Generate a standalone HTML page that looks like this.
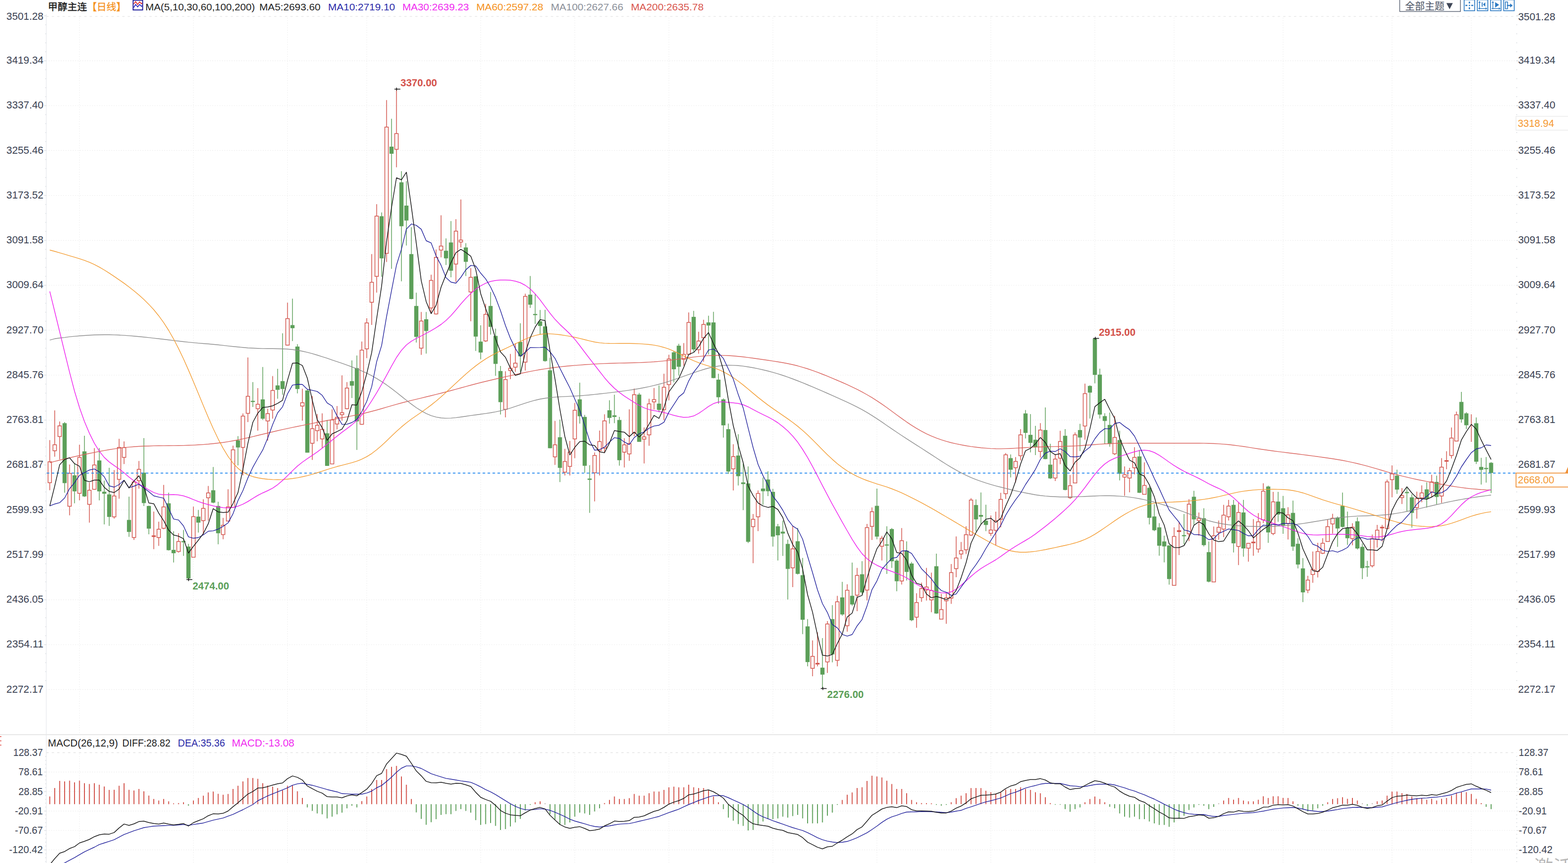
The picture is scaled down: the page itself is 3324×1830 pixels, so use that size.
<!DOCTYPE html><html><head><meta charset="utf-8"><title>chart</title><style>html,body{margin:0;padding:0;background:#fff;overflow:hidden}</style></head><body><svg width="3324" height="1830" viewBox="0 0 3324 1830" style="display:block;font-family:'Liberation Sans',sans-serif">
<rect width="3324" height="1830" fill="#fff"/>
<g><line x1="98.1" y1="34.8" x2="3215.3" y2="34.8" stroke="#e4e4e4" stroke-width="1.3" stroke-dasharray="5 6.5"/><line x1="98.1" y1="128.8" x2="3215.3" y2="128.8" stroke="#ebebeb" stroke-width="1.2" stroke-dasharray="2 3.1"/><line x1="98.1" y1="224.0" x2="3215.3" y2="224.0" stroke="#ebebeb" stroke-width="1.2" stroke-dasharray="2 3.1"/><line x1="98.1" y1="319.2" x2="3215.3" y2="319.2" stroke="#ebebeb" stroke-width="1.2" stroke-dasharray="2 3.1"/><line x1="98.1" y1="414.5" x2="3215.3" y2="414.5" stroke="#ebebeb" stroke-width="1.2" stroke-dasharray="2 3.1"/><line x1="98.1" y1="509.8" x2="3215.3" y2="509.8" stroke="#ebebeb" stroke-width="1.2" stroke-dasharray="2 3.1"/><line x1="98.1" y1="605.0" x2="3215.3" y2="605.0" stroke="#ebebeb" stroke-width="1.2" stroke-dasharray="2 3.1"/><line x1="98.1" y1="700.2" x2="3215.3" y2="700.2" stroke="#ebebeb" stroke-width="1.2" stroke-dasharray="2 3.1"/><line x1="98.1" y1="795.5" x2="3215.3" y2="795.5" stroke="#ebebeb" stroke-width="1.2" stroke-dasharray="2 3.1"/><line x1="98.1" y1="890.8" x2="3215.3" y2="890.8" stroke="#ebebeb" stroke-width="1.2" stroke-dasharray="2 3.1"/><line x1="98.1" y1="986.0" x2="3215.3" y2="986.0" stroke="#ebebeb" stroke-width="1.2" stroke-dasharray="2 3.1"/><line x1="98.1" y1="1081.2" x2="3215.3" y2="1081.2" stroke="#ebebeb" stroke-width="1.2" stroke-dasharray="2 3.1"/><line x1="98.1" y1="1176.5" x2="3215.3" y2="1176.5" stroke="#ebebeb" stroke-width="1.2" stroke-dasharray="2 3.1"/><line x1="98.1" y1="1271.8" x2="3215.3" y2="1271.8" stroke="#ebebeb" stroke-width="1.2" stroke-dasharray="2 3.1"/><line x1="98.1" y1="1367.0" x2="3215.3" y2="1367.0" stroke="#ebebeb" stroke-width="1.2" stroke-dasharray="2 3.1"/><line x1="98.1" y1="1462.2" x2="3215.3" y2="1462.2" stroke="#ebebeb" stroke-width="1.2" stroke-dasharray="2 3.1"/><line x1="168.5" y1="37.5" x2="168.5" y2="1557" stroke="#ededed" stroke-width="1.2" stroke-dasharray="2 3.1"/><line x1="168.5" y1="1598" x2="168.5" y2="1830" stroke="#ededed" stroke-width="1.2" stroke-dasharray="2 3.1"/><line x1="410.0" y1="37.5" x2="410.0" y2="1557" stroke="#ededed" stroke-width="1.2" stroke-dasharray="2 3.1"/><line x1="410.0" y1="1598" x2="410.0" y2="1830" stroke="#ededed" stroke-width="1.2" stroke-dasharray="2 3.1"/><line x1="609.5" y1="37.5" x2="609.5" y2="1557" stroke="#ededed" stroke-width="1.2" stroke-dasharray="2 3.1"/><line x1="609.5" y1="1598" x2="609.5" y2="1830" stroke="#ededed" stroke-width="1.2" stroke-dasharray="2 3.1"/><line x1="777.5" y1="37.5" x2="777.5" y2="1557" stroke="#ededed" stroke-width="1.2" stroke-dasharray="2 3.1"/><line x1="777.5" y1="1598" x2="777.5" y2="1830" stroke="#ededed" stroke-width="1.2" stroke-dasharray="2 3.1"/><line x1="1019.0" y1="37.5" x2="1019.0" y2="1557" stroke="#ededed" stroke-width="1.2" stroke-dasharray="2 3.1"/><line x1="1019.0" y1="1598" x2="1019.0" y2="1830" stroke="#ededed" stroke-width="1.2" stroke-dasharray="2 3.1"/><line x1="1218.5" y1="37.5" x2="1218.5" y2="1557" stroke="#ededed" stroke-width="1.2" stroke-dasharray="2 3.1"/><line x1="1218.5" y1="1598" x2="1218.5" y2="1830" stroke="#ededed" stroke-width="1.2" stroke-dasharray="2 3.1"/><line x1="1418.0" y1="37.5" x2="1418.0" y2="1557" stroke="#ededed" stroke-width="1.2" stroke-dasharray="2 3.1"/><line x1="1418.0" y1="1598" x2="1418.0" y2="1830" stroke="#ededed" stroke-width="1.2" stroke-dasharray="2 3.1"/><line x1="1638.5" y1="37.5" x2="1638.5" y2="1557" stroke="#ededed" stroke-width="1.2" stroke-dasharray="2 3.1"/><line x1="1638.5" y1="1598" x2="1638.5" y2="1830" stroke="#ededed" stroke-width="1.2" stroke-dasharray="2 3.1"/><line x1="1859.0" y1="37.5" x2="1859.0" y2="1557" stroke="#ededed" stroke-width="1.2" stroke-dasharray="2 3.1"/><line x1="1859.0" y1="1598" x2="1859.0" y2="1830" stroke="#ededed" stroke-width="1.2" stroke-dasharray="2 3.1"/><line x1="2100.5" y1="37.5" x2="2100.5" y2="1557" stroke="#ededed" stroke-width="1.2" stroke-dasharray="2 3.1"/><line x1="2100.5" y1="1598" x2="2100.5" y2="1830" stroke="#ededed" stroke-width="1.2" stroke-dasharray="2 3.1"/><line x1="2321.0" y1="37.5" x2="2321.0" y2="1557" stroke="#ededed" stroke-width="1.2" stroke-dasharray="2 3.1"/><line x1="2321.0" y1="1598" x2="2321.0" y2="1830" stroke="#ededed" stroke-width="1.2" stroke-dasharray="2 3.1"/><line x1="2489.0" y1="37.5" x2="2489.0" y2="1557" stroke="#ededed" stroke-width="1.2" stroke-dasharray="2 3.1"/><line x1="2489.0" y1="1598" x2="2489.0" y2="1830" stroke="#ededed" stroke-width="1.2" stroke-dasharray="2 3.1"/><line x1="2720.0" y1="37.5" x2="2720.0" y2="1557" stroke="#ededed" stroke-width="1.2" stroke-dasharray="2 3.1"/><line x1="2720.0" y1="1598" x2="2720.0" y2="1830" stroke="#ededed" stroke-width="1.2" stroke-dasharray="2 3.1"/><line x1="2951.0" y1="37.5" x2="2951.0" y2="1557" stroke="#ededed" stroke-width="1.2" stroke-dasharray="2 3.1"/><line x1="2951.0" y1="1598" x2="2951.0" y2="1830" stroke="#ededed" stroke-width="1.2" stroke-dasharray="2 3.1"/><line x1="3119.0" y1="37.5" x2="3119.0" y2="1557" stroke="#ededed" stroke-width="1.2" stroke-dasharray="2 3.1"/><line x1="3119.0" y1="1598" x2="3119.0" y2="1830" stroke="#ededed" stroke-width="1.2" stroke-dasharray="2 3.1"/><line x1="98.1" y1="30" x2="98.1" y2="1830" stroke="#ebeef1" stroke-width="1.6"/><line x1="93.6" y1="33.5" x2="98.1" y2="33.5" stroke="#dde1e5" stroke-width="1.5"/><line x1="3214.3" y1="33.5" x2="3218.8" y2="33.5" stroke="#d6dade" stroke-width="1.6"/><line x1="95.7" y1="52.5" x2="98.1" y2="52.5" stroke="#dde1e5" stroke-width="1.5"/><line x1="3214.3" y1="52.5" x2="3216.3" y2="52.5" stroke="#d6dade" stroke-width="1.6"/><line x1="95.7" y1="71.6" x2="98.1" y2="71.6" stroke="#dde1e5" stroke-width="1.5"/><line x1="3214.3" y1="71.6" x2="3216.3" y2="71.6" stroke="#d6dade" stroke-width="1.6"/><line x1="95.7" y1="90.7" x2="98.1" y2="90.7" stroke="#dde1e5" stroke-width="1.5"/><line x1="3214.3" y1="90.7" x2="3216.3" y2="90.7" stroke="#d6dade" stroke-width="1.6"/><line x1="95.7" y1="109.7" x2="98.1" y2="109.7" stroke="#dde1e5" stroke-width="1.5"/><line x1="3214.3" y1="109.7" x2="3216.3" y2="109.7" stroke="#d6dade" stroke-width="1.6"/><line x1="93.6" y1="128.8" x2="98.1" y2="128.8" stroke="#dde1e5" stroke-width="1.5"/><line x1="3214.3" y1="128.8" x2="3218.8" y2="128.8" stroke="#d6dade" stroke-width="1.6"/><line x1="95.7" y1="147.8" x2="98.1" y2="147.8" stroke="#dde1e5" stroke-width="1.5"/><line x1="3214.3" y1="147.8" x2="3216.3" y2="147.8" stroke="#d6dade" stroke-width="1.6"/><line x1="95.7" y1="166.8" x2="98.1" y2="166.8" stroke="#dde1e5" stroke-width="1.5"/><line x1="3214.3" y1="166.8" x2="3216.3" y2="166.8" stroke="#d6dade" stroke-width="1.6"/><line x1="95.7" y1="185.9" x2="98.1" y2="185.9" stroke="#dde1e5" stroke-width="1.5"/><line x1="3214.3" y1="185.9" x2="3216.3" y2="185.9" stroke="#d6dade" stroke-width="1.6"/><line x1="95.7" y1="204.9" x2="98.1" y2="204.9" stroke="#dde1e5" stroke-width="1.5"/><line x1="3214.3" y1="204.9" x2="3216.3" y2="204.9" stroke="#d6dade" stroke-width="1.6"/><line x1="93.6" y1="224.0" x2="98.1" y2="224.0" stroke="#dde1e5" stroke-width="1.5"/><line x1="3214.3" y1="224.0" x2="3218.8" y2="224.0" stroke="#d6dade" stroke-width="1.6"/><line x1="95.7" y1="243.1" x2="98.1" y2="243.1" stroke="#dde1e5" stroke-width="1.5"/><line x1="3214.3" y1="243.1" x2="3216.3" y2="243.1" stroke="#d6dade" stroke-width="1.6"/><line x1="95.7" y1="262.1" x2="98.1" y2="262.1" stroke="#dde1e5" stroke-width="1.5"/><line x1="3214.3" y1="262.1" x2="3216.3" y2="262.1" stroke="#d6dade" stroke-width="1.6"/><line x1="95.7" y1="281.1" x2="98.1" y2="281.1" stroke="#dde1e5" stroke-width="1.5"/><line x1="3214.3" y1="281.1" x2="3216.3" y2="281.1" stroke="#d6dade" stroke-width="1.6"/><line x1="95.7" y1="300.2" x2="98.1" y2="300.2" stroke="#dde1e5" stroke-width="1.5"/><line x1="3214.3" y1="300.2" x2="3216.3" y2="300.2" stroke="#d6dade" stroke-width="1.6"/><line x1="93.6" y1="319.2" x2="98.1" y2="319.2" stroke="#dde1e5" stroke-width="1.5"/><line x1="3214.3" y1="319.2" x2="3218.8" y2="319.2" stroke="#d6dade" stroke-width="1.6"/><line x1="95.7" y1="338.3" x2="98.1" y2="338.3" stroke="#dde1e5" stroke-width="1.5"/><line x1="3214.3" y1="338.3" x2="3216.3" y2="338.3" stroke="#d6dade" stroke-width="1.6"/><line x1="95.7" y1="357.4" x2="98.1" y2="357.4" stroke="#dde1e5" stroke-width="1.5"/><line x1="3214.3" y1="357.4" x2="3216.3" y2="357.4" stroke="#d6dade" stroke-width="1.6"/><line x1="95.7" y1="376.4" x2="98.1" y2="376.4" stroke="#dde1e5" stroke-width="1.5"/><line x1="3214.3" y1="376.4" x2="3216.3" y2="376.4" stroke="#d6dade" stroke-width="1.6"/><line x1="95.7" y1="395.4" x2="98.1" y2="395.4" stroke="#dde1e5" stroke-width="1.5"/><line x1="3214.3" y1="395.4" x2="3216.3" y2="395.4" stroke="#d6dade" stroke-width="1.6"/><line x1="93.6" y1="414.5" x2="98.1" y2="414.5" stroke="#dde1e5" stroke-width="1.5"/><line x1="3214.3" y1="414.5" x2="3218.8" y2="414.5" stroke="#d6dade" stroke-width="1.6"/><line x1="95.7" y1="433.6" x2="98.1" y2="433.6" stroke="#dde1e5" stroke-width="1.5"/><line x1="3214.3" y1="433.6" x2="3216.3" y2="433.6" stroke="#d6dade" stroke-width="1.6"/><line x1="95.7" y1="452.6" x2="98.1" y2="452.6" stroke="#dde1e5" stroke-width="1.5"/><line x1="3214.3" y1="452.6" x2="3216.3" y2="452.6" stroke="#d6dade" stroke-width="1.6"/><line x1="95.7" y1="471.6" x2="98.1" y2="471.6" stroke="#dde1e5" stroke-width="1.5"/><line x1="3214.3" y1="471.6" x2="3216.3" y2="471.6" stroke="#d6dade" stroke-width="1.6"/><line x1="95.7" y1="490.7" x2="98.1" y2="490.7" stroke="#dde1e5" stroke-width="1.5"/><line x1="3214.3" y1="490.7" x2="3216.3" y2="490.7" stroke="#d6dade" stroke-width="1.6"/><line x1="93.6" y1="509.8" x2="98.1" y2="509.8" stroke="#dde1e5" stroke-width="1.5"/><line x1="3214.3" y1="509.8" x2="3218.8" y2="509.8" stroke="#d6dade" stroke-width="1.6"/><line x1="95.7" y1="528.8" x2="98.1" y2="528.8" stroke="#dde1e5" stroke-width="1.5"/><line x1="3214.3" y1="528.8" x2="3216.3" y2="528.8" stroke="#d6dade" stroke-width="1.6"/><line x1="95.7" y1="547.9" x2="98.1" y2="547.9" stroke="#dde1e5" stroke-width="1.5"/><line x1="3214.3" y1="547.9" x2="3216.3" y2="547.9" stroke="#d6dade" stroke-width="1.6"/><line x1="95.7" y1="566.9" x2="98.1" y2="566.9" stroke="#dde1e5" stroke-width="1.5"/><line x1="3214.3" y1="566.9" x2="3216.3" y2="566.9" stroke="#d6dade" stroke-width="1.6"/><line x1="95.7" y1="586.0" x2="98.1" y2="586.0" stroke="#dde1e5" stroke-width="1.5"/><line x1="3214.3" y1="586.0" x2="3216.3" y2="586.0" stroke="#d6dade" stroke-width="1.6"/><line x1="93.6" y1="605.0" x2="98.1" y2="605.0" stroke="#dde1e5" stroke-width="1.5"/><line x1="3214.3" y1="605.0" x2="3218.8" y2="605.0" stroke="#d6dade" stroke-width="1.6"/><line x1="95.7" y1="624.0" x2="98.1" y2="624.0" stroke="#dde1e5" stroke-width="1.5"/><line x1="3214.3" y1="624.0" x2="3216.3" y2="624.0" stroke="#d6dade" stroke-width="1.6"/><line x1="95.7" y1="643.1" x2="98.1" y2="643.1" stroke="#dde1e5" stroke-width="1.5"/><line x1="3214.3" y1="643.1" x2="3216.3" y2="643.1" stroke="#d6dade" stroke-width="1.6"/><line x1="95.7" y1="662.1" x2="98.1" y2="662.1" stroke="#dde1e5" stroke-width="1.5"/><line x1="3214.3" y1="662.1" x2="3216.3" y2="662.1" stroke="#d6dade" stroke-width="1.6"/><line x1="95.7" y1="681.2" x2="98.1" y2="681.2" stroke="#dde1e5" stroke-width="1.5"/><line x1="3214.3" y1="681.2" x2="3216.3" y2="681.2" stroke="#d6dade" stroke-width="1.6"/><line x1="93.6" y1="700.2" x2="98.1" y2="700.2" stroke="#dde1e5" stroke-width="1.5"/><line x1="3214.3" y1="700.2" x2="3218.8" y2="700.2" stroke="#d6dade" stroke-width="1.6"/><line x1="95.7" y1="719.3" x2="98.1" y2="719.3" stroke="#dde1e5" stroke-width="1.5"/><line x1="3214.3" y1="719.3" x2="3216.3" y2="719.3" stroke="#d6dade" stroke-width="1.6"/><line x1="95.7" y1="738.4" x2="98.1" y2="738.4" stroke="#dde1e5" stroke-width="1.5"/><line x1="3214.3" y1="738.4" x2="3216.3" y2="738.4" stroke="#d6dade" stroke-width="1.6"/><line x1="95.7" y1="757.4" x2="98.1" y2="757.4" stroke="#dde1e5" stroke-width="1.5"/><line x1="3214.3" y1="757.4" x2="3216.3" y2="757.4" stroke="#d6dade" stroke-width="1.6"/><line x1="95.7" y1="776.5" x2="98.1" y2="776.5" stroke="#dde1e5" stroke-width="1.5"/><line x1="3214.3" y1="776.5" x2="3216.3" y2="776.5" stroke="#d6dade" stroke-width="1.6"/><line x1="93.6" y1="795.5" x2="98.1" y2="795.5" stroke="#dde1e5" stroke-width="1.5"/><line x1="3214.3" y1="795.5" x2="3218.8" y2="795.5" stroke="#d6dade" stroke-width="1.6"/><line x1="95.7" y1="814.5" x2="98.1" y2="814.5" stroke="#dde1e5" stroke-width="1.5"/><line x1="3214.3" y1="814.5" x2="3216.3" y2="814.5" stroke="#d6dade" stroke-width="1.6"/><line x1="95.7" y1="833.6" x2="98.1" y2="833.6" stroke="#dde1e5" stroke-width="1.5"/><line x1="3214.3" y1="833.6" x2="3216.3" y2="833.6" stroke="#d6dade" stroke-width="1.6"/><line x1="95.7" y1="852.6" x2="98.1" y2="852.6" stroke="#dde1e5" stroke-width="1.5"/><line x1="3214.3" y1="852.6" x2="3216.3" y2="852.6" stroke="#d6dade" stroke-width="1.6"/><line x1="95.7" y1="871.7" x2="98.1" y2="871.7" stroke="#dde1e5" stroke-width="1.5"/><line x1="3214.3" y1="871.7" x2="3216.3" y2="871.7" stroke="#d6dade" stroke-width="1.6"/><line x1="93.6" y1="890.8" x2="98.1" y2="890.8" stroke="#dde1e5" stroke-width="1.5"/><line x1="3214.3" y1="890.8" x2="3218.8" y2="890.8" stroke="#d6dade" stroke-width="1.6"/><line x1="95.7" y1="909.8" x2="98.1" y2="909.8" stroke="#dde1e5" stroke-width="1.5"/><line x1="3214.3" y1="909.8" x2="3216.3" y2="909.8" stroke="#d6dade" stroke-width="1.6"/><line x1="95.7" y1="928.9" x2="98.1" y2="928.9" stroke="#dde1e5" stroke-width="1.5"/><line x1="3214.3" y1="928.9" x2="3216.3" y2="928.9" stroke="#d6dade" stroke-width="1.6"/><line x1="95.7" y1="947.9" x2="98.1" y2="947.9" stroke="#dde1e5" stroke-width="1.5"/><line x1="3214.3" y1="947.9" x2="3216.3" y2="947.9" stroke="#d6dade" stroke-width="1.6"/><line x1="95.7" y1="967.0" x2="98.1" y2="967.0" stroke="#dde1e5" stroke-width="1.5"/><line x1="3214.3" y1="967.0" x2="3216.3" y2="967.0" stroke="#d6dade" stroke-width="1.6"/><line x1="93.6" y1="986.0" x2="98.1" y2="986.0" stroke="#dde1e5" stroke-width="1.5"/><line x1="3214.3" y1="986.0" x2="3218.8" y2="986.0" stroke="#d6dade" stroke-width="1.6"/><line x1="95.7" y1="1005.0" x2="98.1" y2="1005.0" stroke="#dde1e5" stroke-width="1.5"/><line x1="3214.3" y1="1005.0" x2="3216.3" y2="1005.0" stroke="#d6dade" stroke-width="1.6"/><line x1="95.7" y1="1024.1" x2="98.1" y2="1024.1" stroke="#dde1e5" stroke-width="1.5"/><line x1="3214.3" y1="1024.1" x2="3216.3" y2="1024.1" stroke="#d6dade" stroke-width="1.6"/><line x1="95.7" y1="1043.2" x2="98.1" y2="1043.2" stroke="#dde1e5" stroke-width="1.5"/><line x1="3214.3" y1="1043.2" x2="3216.3" y2="1043.2" stroke="#d6dade" stroke-width="1.6"/><line x1="95.7" y1="1062.2" x2="98.1" y2="1062.2" stroke="#dde1e5" stroke-width="1.5"/><line x1="3214.3" y1="1062.2" x2="3216.3" y2="1062.2" stroke="#d6dade" stroke-width="1.6"/><line x1="93.6" y1="1081.2" x2="98.1" y2="1081.2" stroke="#dde1e5" stroke-width="1.5"/><line x1="3214.3" y1="1081.2" x2="3218.8" y2="1081.2" stroke="#d6dade" stroke-width="1.6"/><line x1="95.7" y1="1100.3" x2="98.1" y2="1100.3" stroke="#dde1e5" stroke-width="1.5"/><line x1="3214.3" y1="1100.3" x2="3216.3" y2="1100.3" stroke="#d6dade" stroke-width="1.6"/><line x1="95.7" y1="1119.3" x2="98.1" y2="1119.3" stroke="#dde1e5" stroke-width="1.5"/><line x1="3214.3" y1="1119.3" x2="3216.3" y2="1119.3" stroke="#d6dade" stroke-width="1.6"/><line x1="95.7" y1="1138.4" x2="98.1" y2="1138.4" stroke="#dde1e5" stroke-width="1.5"/><line x1="3214.3" y1="1138.4" x2="3216.3" y2="1138.4" stroke="#d6dade" stroke-width="1.6"/><line x1="95.7" y1="1157.5" x2="98.1" y2="1157.5" stroke="#dde1e5" stroke-width="1.5"/><line x1="3214.3" y1="1157.5" x2="3216.3" y2="1157.5" stroke="#d6dade" stroke-width="1.6"/><line x1="93.6" y1="1176.5" x2="98.1" y2="1176.5" stroke="#dde1e5" stroke-width="1.5"/><line x1="3214.3" y1="1176.5" x2="3218.8" y2="1176.5" stroke="#d6dade" stroke-width="1.6"/><line x1="95.7" y1="1195.5" x2="98.1" y2="1195.5" stroke="#dde1e5" stroke-width="1.5"/><line x1="3214.3" y1="1195.5" x2="3216.3" y2="1195.5" stroke="#d6dade" stroke-width="1.6"/><line x1="95.7" y1="1214.6" x2="98.1" y2="1214.6" stroke="#dde1e5" stroke-width="1.5"/><line x1="3214.3" y1="1214.6" x2="3216.3" y2="1214.6" stroke="#d6dade" stroke-width="1.6"/><line x1="95.7" y1="1233.7" x2="98.1" y2="1233.7" stroke="#dde1e5" stroke-width="1.5"/><line x1="3214.3" y1="1233.7" x2="3216.3" y2="1233.7" stroke="#d6dade" stroke-width="1.6"/><line x1="95.7" y1="1252.7" x2="98.1" y2="1252.7" stroke="#dde1e5" stroke-width="1.5"/><line x1="3214.3" y1="1252.7" x2="3216.3" y2="1252.7" stroke="#d6dade" stroke-width="1.6"/><line x1="93.6" y1="1271.8" x2="98.1" y2="1271.8" stroke="#dde1e5" stroke-width="1.5"/><line x1="3214.3" y1="1271.8" x2="3218.8" y2="1271.8" stroke="#d6dade" stroke-width="1.6"/><line x1="95.7" y1="1290.8" x2="98.1" y2="1290.8" stroke="#dde1e5" stroke-width="1.5"/><line x1="3214.3" y1="1290.8" x2="3216.3" y2="1290.8" stroke="#d6dade" stroke-width="1.6"/><line x1="95.7" y1="1309.8" x2="98.1" y2="1309.8" stroke="#dde1e5" stroke-width="1.5"/><line x1="3214.3" y1="1309.8" x2="3216.3" y2="1309.8" stroke="#d6dade" stroke-width="1.6"/><line x1="95.7" y1="1328.9" x2="98.1" y2="1328.9" stroke="#dde1e5" stroke-width="1.5"/><line x1="3214.3" y1="1328.9" x2="3216.3" y2="1328.9" stroke="#d6dade" stroke-width="1.6"/><line x1="95.7" y1="1348.0" x2="98.1" y2="1348.0" stroke="#dde1e5" stroke-width="1.5"/><line x1="3214.3" y1="1348.0" x2="3216.3" y2="1348.0" stroke="#d6dade" stroke-width="1.6"/><line x1="93.6" y1="1367.0" x2="98.1" y2="1367.0" stroke="#dde1e5" stroke-width="1.5"/><line x1="3214.3" y1="1367.0" x2="3218.8" y2="1367.0" stroke="#d6dade" stroke-width="1.6"/><line x1="95.7" y1="1386.0" x2="98.1" y2="1386.0" stroke="#dde1e5" stroke-width="1.5"/><line x1="3214.3" y1="1386.0" x2="3216.3" y2="1386.0" stroke="#d6dade" stroke-width="1.6"/><line x1="95.7" y1="1405.1" x2="98.1" y2="1405.1" stroke="#dde1e5" stroke-width="1.5"/><line x1="3214.3" y1="1405.1" x2="3216.3" y2="1405.1" stroke="#d6dade" stroke-width="1.6"/><line x1="95.7" y1="1424.2" x2="98.1" y2="1424.2" stroke="#dde1e5" stroke-width="1.5"/><line x1="3214.3" y1="1424.2" x2="3216.3" y2="1424.2" stroke="#d6dade" stroke-width="1.6"/><line x1="95.7" y1="1443.2" x2="98.1" y2="1443.2" stroke="#dde1e5" stroke-width="1.5"/><line x1="3214.3" y1="1443.2" x2="3216.3" y2="1443.2" stroke="#d6dade" stroke-width="1.6"/><line x1="98.1" y1="1596.0" x2="3215.3" y2="1596.0" stroke="#e4e4e4" stroke-width="1.3" stroke-dasharray="5 6.5"/><line x1="98.1" y1="1637.2" x2="3215.3" y2="1637.2" stroke="#ebebeb" stroke-width="1.2" stroke-dasharray="2 3.1"/><line x1="93.6" y1="1637.2" x2="98.1" y2="1637.2" stroke="#dde1e5" stroke-width="1.5"/><line x1="3215.3" y1="1637.2" x2="3219.8" y2="1637.2" stroke="#dde1e5" stroke-width="1.5"/><line x1="98.1" y1="1678.5" x2="3215.3" y2="1678.5" stroke="#ebebeb" stroke-width="1.2" stroke-dasharray="2 3.1"/><line x1="93.6" y1="1678.5" x2="98.1" y2="1678.5" stroke="#dde1e5" stroke-width="1.5"/><line x1="3215.3" y1="1678.5" x2="3219.8" y2="1678.5" stroke="#dde1e5" stroke-width="1.5"/><line x1="98.1" y1="1719.8" x2="3215.3" y2="1719.8" stroke="#ebebeb" stroke-width="1.2" stroke-dasharray="2 3.1"/><line x1="93.6" y1="1719.8" x2="98.1" y2="1719.8" stroke="#dde1e5" stroke-width="1.5"/><line x1="3215.3" y1="1719.8" x2="3219.8" y2="1719.8" stroke="#dde1e5" stroke-width="1.5"/><line x1="98.1" y1="1761.0" x2="3215.3" y2="1761.0" stroke="#ebebeb" stroke-width="1.2" stroke-dasharray="2 3.1"/><line x1="93.6" y1="1761.0" x2="98.1" y2="1761.0" stroke="#dde1e5" stroke-width="1.5"/><line x1="3215.3" y1="1761.0" x2="3219.8" y2="1761.0" stroke="#dde1e5" stroke-width="1.5"/><line x1="98.1" y1="1802.2" x2="3215.3" y2="1802.2" stroke="#ebebeb" stroke-width="1.2" stroke-dasharray="2 3.1"/><line x1="93.6" y1="1802.2" x2="98.1" y2="1802.2" stroke="#dde1e5" stroke-width="1.5"/><line x1="3215.3" y1="1802.2" x2="3219.8" y2="1802.2" stroke="#dde1e5" stroke-width="1.5"/><line x1="95.7" y1="1604.2" x2="98.1" y2="1604.2" stroke="#dde1e5" stroke-width="1.5"/><line x1="3214.3" y1="1604.2" x2="3216.3" y2="1604.2" stroke="#d6dade" stroke-width="1.6"/><line x1="95.7" y1="1612.5" x2="98.1" y2="1612.5" stroke="#dde1e5" stroke-width="1.5"/><line x1="3214.3" y1="1612.5" x2="3216.3" y2="1612.5" stroke="#d6dade" stroke-width="1.6"/><line x1="95.7" y1="1620.8" x2="98.1" y2="1620.8" stroke="#dde1e5" stroke-width="1.5"/><line x1="3214.3" y1="1620.8" x2="3216.3" y2="1620.8" stroke="#d6dade" stroke-width="1.6"/><line x1="95.7" y1="1629.0" x2="98.1" y2="1629.0" stroke="#dde1e5" stroke-width="1.5"/><line x1="3214.3" y1="1629.0" x2="3216.3" y2="1629.0" stroke="#d6dade" stroke-width="1.6"/><line x1="95.7" y1="1645.5" x2="98.1" y2="1645.5" stroke="#dde1e5" stroke-width="1.5"/><line x1="3214.3" y1="1645.5" x2="3216.3" y2="1645.5" stroke="#d6dade" stroke-width="1.6"/><line x1="95.7" y1="1653.8" x2="98.1" y2="1653.8" stroke="#dde1e5" stroke-width="1.5"/><line x1="3214.3" y1="1653.8" x2="3216.3" y2="1653.8" stroke="#d6dade" stroke-width="1.6"/><line x1="95.7" y1="1662.0" x2="98.1" y2="1662.0" stroke="#dde1e5" stroke-width="1.5"/><line x1="3214.3" y1="1662.0" x2="3216.3" y2="1662.0" stroke="#d6dade" stroke-width="1.6"/><line x1="95.7" y1="1670.2" x2="98.1" y2="1670.2" stroke="#dde1e5" stroke-width="1.5"/><line x1="3214.3" y1="1670.2" x2="3216.3" y2="1670.2" stroke="#d6dade" stroke-width="1.6"/><line x1="95.7" y1="1686.8" x2="98.1" y2="1686.8" stroke="#dde1e5" stroke-width="1.5"/><line x1="3214.3" y1="1686.8" x2="3216.3" y2="1686.8" stroke="#d6dade" stroke-width="1.6"/><line x1="95.7" y1="1695.0" x2="98.1" y2="1695.0" stroke="#dde1e5" stroke-width="1.5"/><line x1="3214.3" y1="1695.0" x2="3216.3" y2="1695.0" stroke="#d6dade" stroke-width="1.6"/><line x1="95.7" y1="1703.2" x2="98.1" y2="1703.2" stroke="#dde1e5" stroke-width="1.5"/><line x1="3214.3" y1="1703.2" x2="3216.3" y2="1703.2" stroke="#d6dade" stroke-width="1.6"/><line x1="95.7" y1="1711.5" x2="98.1" y2="1711.5" stroke="#dde1e5" stroke-width="1.5"/><line x1="3214.3" y1="1711.5" x2="3216.3" y2="1711.5" stroke="#d6dade" stroke-width="1.6"/><line x1="95.7" y1="1728.0" x2="98.1" y2="1728.0" stroke="#dde1e5" stroke-width="1.5"/><line x1="3214.3" y1="1728.0" x2="3216.3" y2="1728.0" stroke="#d6dade" stroke-width="1.6"/><line x1="95.7" y1="1736.2" x2="98.1" y2="1736.2" stroke="#dde1e5" stroke-width="1.5"/><line x1="3214.3" y1="1736.2" x2="3216.3" y2="1736.2" stroke="#d6dade" stroke-width="1.6"/><line x1="95.7" y1="1744.5" x2="98.1" y2="1744.5" stroke="#dde1e5" stroke-width="1.5"/><line x1="3214.3" y1="1744.5" x2="3216.3" y2="1744.5" stroke="#d6dade" stroke-width="1.6"/><line x1="95.7" y1="1752.8" x2="98.1" y2="1752.8" stroke="#dde1e5" stroke-width="1.5"/><line x1="3214.3" y1="1752.8" x2="3216.3" y2="1752.8" stroke="#d6dade" stroke-width="1.6"/><line x1="95.7" y1="1769.2" x2="98.1" y2="1769.2" stroke="#dde1e5" stroke-width="1.5"/><line x1="3214.3" y1="1769.2" x2="3216.3" y2="1769.2" stroke="#d6dade" stroke-width="1.6"/><line x1="95.7" y1="1777.5" x2="98.1" y2="1777.5" stroke="#dde1e5" stroke-width="1.5"/><line x1="3214.3" y1="1777.5" x2="3216.3" y2="1777.5" stroke="#d6dade" stroke-width="1.6"/><line x1="95.7" y1="1785.8" x2="98.1" y2="1785.8" stroke="#dde1e5" stroke-width="1.5"/><line x1="3214.3" y1="1785.8" x2="3216.3" y2="1785.8" stroke="#d6dade" stroke-width="1.6"/><line x1="95.7" y1="1794.0" x2="98.1" y2="1794.0" stroke="#dde1e5" stroke-width="1.5"/><line x1="3214.3" y1="1794.0" x2="3216.3" y2="1794.0" stroke="#d6dade" stroke-width="1.6"/><line x1="95.7" y1="1810.5" x2="98.1" y2="1810.5" stroke="#dde1e5" stroke-width="1.5"/><line x1="3214.3" y1="1810.5" x2="3216.3" y2="1810.5" stroke="#d6dade" stroke-width="1.6"/><line x1="95.7" y1="1818.8" x2="98.1" y2="1818.8" stroke="#dde1e5" stroke-width="1.5"/><line x1="3214.3" y1="1818.8" x2="3216.3" y2="1818.8" stroke="#d6dade" stroke-width="1.6"/><line x1="95.7" y1="1827.0" x2="98.1" y2="1827.0" stroke="#dde1e5" stroke-width="1.5"/><line x1="3214.3" y1="1827.0" x2="3216.3" y2="1827.0" stroke="#d6dade" stroke-width="1.6"/><line x1="0" y1="1557.7" x2="3324" y2="1557.7" stroke="#e6e6e6" stroke-width="2"/></g>
<g><path d="M105.5 933.2V979.2M105.5 1023.5V1039.6" stroke="#d2524a" stroke-width="1.5"/><rect x="101.8" y="979.2" width="7.4" height="44.3" fill="#fff" stroke="#d2524a" stroke-width="1.5"/><path d="M116.0 870.3V943.1M116.0 955.8V968.5" stroke="#d2524a" stroke-width="1.5"/><rect x="112.3" y="943.1" width="7.4" height="12.7" fill="#fff" stroke="#d2524a" stroke-width="1.5"/><path d="M126.5 893.7V903.0M126.5 925.6V974.2" stroke="#d2524a" stroke-width="1.5"/><rect x="122.8" y="903.0" width="7.4" height="22.6" fill="#fff" stroke="#d2524a" stroke-width="1.5"/><path d="M137.0 895.1V1044.7" stroke="#5c9f59" stroke-width="1.5"/><rect x="132.6" y="897.4" width="8.8" height="127.0" fill="#5c9f59"/><path d="M147.5 984.9V1003.8M147.5 1073.5V1092.7" stroke="#d2524a" stroke-width="1.5"/><rect x="143.8" y="1003.8" width="7.4" height="69.7" fill="#fff" stroke="#d2524a" stroke-width="1.5"/><path d="M158.0 982.6V1067.3" stroke="#5c9f59" stroke-width="1.5"/><rect x="153.6" y="1008.0" width="8.8" height="33.9" fill="#5c9f59"/><path d="M168.5 943.1V969.9M168.5 1046.1V1061.1" stroke="#d2524a" stroke-width="1.5"/><rect x="164.8" y="969.9" width="7.4" height="76.2" fill="#fff" stroke="#d2524a" stroke-width="1.5"/><path d="M179.0 923.9V1053.7" stroke="#5c9f59" stroke-width="1.5"/><rect x="174.6" y="957.2" width="8.8" height="95.4" fill="#5c9f59"/><path d="M189.5 1023.5V1039.6M189.5 1069.5V1108.2" stroke="#d2524a" stroke-width="1.5"/><rect x="185.8" y="1039.6" width="7.4" height="29.9" fill="#fff" stroke="#d2524a" stroke-width="1.5"/><path d="M200.0 950.2V986.0M200.0 1037.6V1038.5" stroke="#d2524a" stroke-width="1.5"/><rect x="196.3" y="986.0" width="7.4" height="51.6" fill="#fff" stroke="#d2524a" stroke-width="1.5"/><path d="M210.5 950.2V1061.1" stroke="#5c9f59" stroke-width="1.5"/><rect x="206.1" y="976.4" width="8.8" height="65.5" fill="#5c9f59"/><path d="M221.0 1019.3V1111.9" stroke="#5c9f59" stroke-width="1.5"/><rect x="216.6" y="1042.7" width="8.8" height="4.2" fill="#5c9f59"/><path d="M231.5 991.9V1115.2" stroke="#5c9f59" stroke-width="1.5"/><rect x="227.1" y="1048.4" width="8.8" height="47.7" fill="#5c9f59"/><path d="M242.0 996.7V1051.7M242.0 1096.0V1099.7" stroke="#d2524a" stroke-width="1.5"/><rect x="238.3" y="1051.7" width="7.4" height="44.3" fill="#fff" stroke="#d2524a" stroke-width="1.5"/><path d="M252.5 930.4V948.8M252.5 1016.5V1057.4" stroke="#d2524a" stroke-width="1.5"/><rect x="248.8" y="948.8" width="7.4" height="67.7" fill="#fff" stroke="#d2524a" stroke-width="1.5"/><path d="M263.0 936.1V949.3M263.0 969.9V984.0" stroke="#d2524a" stroke-width="1.5"/><rect x="259.3" y="949.3" width="7.4" height="20.6" fill="#fff" stroke="#d2524a" stroke-width="1.5"/><path d="M273.5 1053.2V1138.4" stroke="#5c9f59" stroke-width="1.5"/><rect x="269.1" y="1102.5" width="8.8" height="25.4" fill="#5c9f59"/><path d="M284.0 1019.3V1022.1M284.0 1139.8V1144.9" stroke="#d2524a" stroke-width="1.5"/><rect x="280.3" y="1022.1" width="7.4" height="117.7" fill="#fff" stroke="#d2524a" stroke-width="1.5"/><path d="M294.5 977.5V995.3M294.5 1019.3V1036.2" stroke="#d2524a" stroke-width="1.5"/><rect x="290.8" y="995.3" width="7.4" height="24.0" fill="#fff" stroke="#d2524a" stroke-width="1.5"/><path d="M305.0 929.0V1072.9" stroke="#5c9f59" stroke-width="1.5"/><rect x="300.6" y="1002.4" width="8.8" height="64.3" fill="#5c9f59"/><path d="M315.5 1072.3V1133.0" stroke="#5c9f59" stroke-width="1.5"/><rect x="311.1" y="1072.9" width="8.8" height="48.0" fill="#5c9f59"/><path d="M326.0 1084.8V1164.6" stroke="#d2524a" stroke-width="1.5"/><rect x="321.6" y="1135.4" width="8.8" height="3.1" fill="#d2524a"/><path d="M336.5 1106.2V1122.3M336.5 1139.8V1157.6" stroke="#d2524a" stroke-width="1.5"/><rect x="332.8" y="1122.3" width="7.4" height="17.5" fill="#fff" stroke="#d2524a" stroke-width="1.5"/><path d="M347.0 1028.3V1074.9M347.0 1120.3V1122.3" stroke="#d2524a" stroke-width="1.5"/><rect x="343.3" y="1074.9" width="7.4" height="45.4" fill="#fff" stroke="#d2524a" stroke-width="1.5"/><path d="M357.5 1044.7V1167.4" stroke="#5c9f59" stroke-width="1.5"/><rect x="353.1" y="1067.3" width="8.8" height="99.3" fill="#5c9f59"/><path d="M368.0 1126.5V1192.8" stroke="#5c9f59" stroke-width="1.5"/><rect x="363.6" y="1166.0" width="8.8" height="7.1" fill="#5c9f59"/><path d="M378.5 1130.8V1148.3M378.5 1169.4V1171.7" stroke="#d2524a" stroke-width="1.5"/><rect x="374.8" y="1148.3" width="7.4" height="21.2" fill="#fff" stroke="#d2524a" stroke-width="1.5"/><path d="M389.0 1123.7V1178.7" stroke="#5c9f59" stroke-width="1.5"/><rect x="384.6" y="1147.4" width="8.8" height="2.4" fill="#5c9f59"/><path d="M399.5 1153.3V1229.0" stroke="#5c9f59" stroke-width="1.5"/><rect x="395.1" y="1159.0" width="8.8" height="67.7" fill="#5c9f59"/><path d="M410.0 1074.3V1095.5M410.0 1181.5V1181.5" stroke="#d2524a" stroke-width="1.5"/><rect x="406.3" y="1095.5" width="7.4" height="86.1" fill="#fff" stroke="#d2524a" stroke-width="1.5"/><path d="M420.5 1081.4V1129.3" stroke="#5c9f59" stroke-width="1.5"/><rect x="416.1" y="1095.5" width="8.8" height="12.7" fill="#5c9f59"/><path d="M431.0 1058.8V1078.0M431.0 1104.0V1133.6" stroke="#d2524a" stroke-width="1.5"/><rect x="427.3" y="1078.0" width="7.4" height="26.0" fill="#fff" stroke="#d2524a" stroke-width="1.5"/><path d="M441.5 1030.6V1045.3M441.5 1055.4V1104.0" stroke="#d2524a" stroke-width="1.5"/><rect x="437.8" y="1045.3" width="7.4" height="10.2" fill="#fff" stroke="#d2524a" stroke-width="1.5"/><path d="M452.0 990.2V1067.3" stroke="#5c9f59" stroke-width="1.5"/><rect x="447.6" y="1039.6" width="8.8" height="26.2" fill="#5c9f59"/><path d="M462.5 1063.9V1154.2" stroke="#5c9f59" stroke-width="1.5"/><rect x="458.1" y="1072.9" width="8.8" height="57.8" fill="#5c9f59"/><path d="M473.0 1098.3V1113.8M473.0 1133.6V1143.5" stroke="#d2524a" stroke-width="1.5"/><rect x="469.3" y="1113.8" width="7.4" height="19.8" fill="#fff" stroke="#d2524a" stroke-width="1.5"/><path d="M483.5 1037.6V1074.9M483.5 1104.8V1105.4" stroke="#d2524a" stroke-width="1.5"/><rect x="479.8" y="1074.9" width="7.4" height="29.9" fill="#fff" stroke="#d2524a" stroke-width="1.5"/><path d="M494.0 945.1V953.8M494.0 1075.7V1075.7" stroke="#d2524a" stroke-width="1.5"/><rect x="490.3" y="953.8" width="7.4" height="121.9" fill="#fff" stroke="#d2524a" stroke-width="1.5"/><path d="M504.5 924.8V986.9" stroke="#5c9f59" stroke-width="1.5"/><rect x="500.1" y="933.8" width="8.8" height="15.0" fill="#5c9f59"/><path d="M515.0 876.8V882.4M515.0 948.8V1008.0" stroke="#d2524a" stroke-width="1.5"/><rect x="511.3" y="882.4" width="7.4" height="66.3" fill="#fff" stroke="#d2524a" stroke-width="1.5"/><path d="M525.5 758.0V840.4M525.5 876.5V894.9" stroke="#d2524a" stroke-width="1.5"/><rect x="521.8" y="840.4" width="7.4" height="36.1" fill="#fff" stroke="#d2524a" stroke-width="1.5"/><path d="M536.0 810.2V863.0" stroke="#5c9f59" stroke-width="1.5"/><rect x="531.6" y="850.0" width="8.8" height="2.4" fill="#5c9f59"/><path d="M546.5 822.9V857.3M546.5 866.6V913.2" stroke="#d2524a" stroke-width="1.5"/><rect x="542.8" y="857.3" width="7.4" height="9.3" fill="#fff" stroke="#d2524a" stroke-width="1.5"/><path d="M557.0 778.3V890.6" stroke="#5c9f59" stroke-width="1.5"/><rect x="552.6" y="846.9" width="8.8" height="40.9" fill="#5c9f59"/><path d="M567.5 866.6V877.1M567.5 892.6V934.4" stroke="#d2524a" stroke-width="1.5"/><rect x="563.8" y="877.1" width="7.4" height="15.5" fill="#fff" stroke="#d2524a" stroke-width="1.5"/><path d="M578.0 797.5V828.0M578.0 869.5V887.8" stroke="#d2524a" stroke-width="1.5"/><rect x="574.3" y="828.0" width="7.4" height="41.5" fill="#fff" stroke="#d2524a" stroke-width="1.5"/><path d="M588.5 782.0V845.5" stroke="#5c9f59" stroke-width="1.5"/><rect x="584.1" y="817.3" width="8.8" height="9.3" fill="#5c9f59"/><path d="M599.0 706.7V837.0" stroke="#5c9f59" stroke-width="1.5"/><rect x="594.6" y="808.2" width="8.8" height="16.6" fill="#5c9f59"/><path d="M609.5 641.8V675.6M609.5 731.8V732.6" stroke="#d2524a" stroke-width="1.5"/><rect x="605.8" y="675.6" width="7.4" height="56.2" fill="#fff" stroke="#d2524a" stroke-width="1.5"/><path d="M620.0 633.3V723.3" stroke="#5c9f59" stroke-width="1.5"/><rect x="615.6" y="689.4" width="8.8" height="6.5" fill="#5c9f59"/><path d="M630.5 729.8V834.2" stroke="#5c9f59" stroke-width="1.5"/><rect x="626.1" y="734.9" width="8.8" height="90.0" fill="#5c9f59"/><path d="M641.0 824.3V854.0M641.0 861.0V892.0" stroke="#d2524a" stroke-width="1.5"/><rect x="637.3" y="854.0" width="7.4" height="7.1" fill="#fff" stroke="#d2524a" stroke-width="1.5"/><path d="M651.5 825.7V959.8" stroke="#5c9f59" stroke-width="1.5"/><rect x="647.1" y="828.0" width="8.8" height="131.8" fill="#5c9f59"/><path d="M662.0 839.8V909.0M662.0 940.0V975.3" stroke="#d2524a" stroke-width="1.5"/><rect x="658.3" y="909.0" width="7.4" height="31.0" fill="#fff" stroke="#d2524a" stroke-width="1.5"/><path d="M672.5 877.9V901.9M672.5 913.2V935.8" stroke="#d2524a" stroke-width="1.5"/><rect x="668.8" y="901.9" width="7.4" height="11.3" fill="#fff" stroke="#d2524a" stroke-width="1.5"/><path d="M683.0 876.5V910.4M683.0 930.7V949.9" stroke="#d2524a" stroke-width="1.5"/><rect x="679.3" y="910.4" width="7.4" height="20.3" fill="#fff" stroke="#d2524a" stroke-width="1.5"/><path d="M693.5 890.6V988.0" stroke="#5c9f59" stroke-width="1.5"/><rect x="689.1" y="918.8" width="8.8" height="69.1" fill="#5c9f59"/><path d="M704.0 868.1V890.6M704.0 983.7V983.7" stroke="#d2524a" stroke-width="1.5"/><rect x="700.3" y="890.6" width="7.4" height="93.1" fill="#fff" stroke="#d2524a" stroke-width="1.5"/><path d="M714.5 861.0V885.0M714.5 899.1V910.4" stroke="#d2524a" stroke-width="1.5"/><rect x="710.8" y="885.0" width="7.4" height="14.1" fill="#fff" stroke="#d2524a" stroke-width="1.5"/><path d="M725.0 796.1V875.1M725.0 879.3V892.0" stroke="#d2524a" stroke-width="1.5"/><rect x="721.3" y="875.1" width="7.4" height="4.2" fill="#fff" stroke="#d2524a" stroke-width="1.5"/><path d="M735.5 810.2V822.9M735.5 866.6V868.1" stroke="#d2524a" stroke-width="1.5"/><rect x="731.8" y="822.9" width="7.4" height="43.7" fill="#fff" stroke="#d2524a" stroke-width="1.5"/><path d="M746.0 764.2V844.1" stroke="#5c9f59" stroke-width="1.5"/><rect x="741.6" y="808.2" width="8.8" height="9.6" fill="#5c9f59"/><path d="M756.5 753.8V954.1" stroke="#5c9f59" stroke-width="1.5"/><rect x="752.1" y="780.6" width="8.8" height="112.9" fill="#5c9f59"/><path d="M767.0 724.2V742.5M767.0 899.7V900.5" stroke="#d2524a" stroke-width="1.5"/><rect x="763.3" y="742.5" width="7.4" height="157.2" fill="#fff" stroke="#d2524a" stroke-width="1.5"/><path d="M777.5 674.8V684.7M777.5 739.7V759.4" stroke="#d2524a" stroke-width="1.5"/><rect x="773.8" y="684.7" width="7.4" height="55.0" fill="#fff" stroke="#d2524a" stroke-width="1.5"/><path d="M788.0 538.8V598.6M788.0 641.0V689.0" stroke="#d2524a" stroke-width="1.5"/><rect x="784.3" y="598.6" width="7.4" height="42.4" fill="#fff" stroke="#d2524a" stroke-width="1.5"/><path d="M798.5 433.0V458.3M798.5 586.0V620.6" stroke="#d2524a" stroke-width="1.5"/><rect x="794.8" y="458.3" width="7.4" height="127.7" fill="#fff" stroke="#d2524a" stroke-width="1.5"/><path d="M809.0 450.6V586.7" stroke="#5c9f59" stroke-width="1.5"/><rect x="804.6" y="458.5" width="8.8" height="89.3" fill="#5c9f59"/><path d="M819.5 212.2V269.5M819.5 537.3V555.4" stroke="#d2524a" stroke-width="1.5"/><rect x="815.8" y="269.5" width="7.4" height="267.8" fill="#fff" stroke="#d2524a" stroke-width="1.5"/><path d="M830.0 251.7V570.0" stroke="#5c9f59" stroke-width="1.5"/><rect x="825.6" y="311.0" width="8.8" height="15.0" fill="#5c9f59"/><path d="M840.5 189.0V283.3M840.5 316.6V354.7" stroke="#d2524a" stroke-width="1.5"/><rect x="836.8" y="283.3" width="7.4" height="33.3" fill="#fff" stroke="#d2524a" stroke-width="1.5"/><path d="M851.0 363.0V596.6" stroke="#5c9f59" stroke-width="1.5"/><rect x="846.6" y="386.6" width="8.8" height="93.1" fill="#5c9f59"/><path d="M861.5 384.3V520.6" stroke="#5c9f59" stroke-width="1.5"/><rect x="857.1" y="436.0" width="8.8" height="31.6" fill="#5c9f59"/><path d="M872.0 481.7V634.7" stroke="#5c9f59" stroke-width="1.5"/><rect x="867.6" y="538.8" width="8.8" height="95.2" fill="#5c9f59"/><path d="M882.5 620.6V726.4" stroke="#5c9f59" stroke-width="1.5"/><rect x="878.1" y="648.8" width="8.8" height="65.5" fill="#5c9f59"/><path d="M893.0 661.5V680.7M893.0 738.3V752.6" stroke="#d2524a" stroke-width="1.5"/><rect x="889.3" y="680.7" width="7.4" height="57.6" fill="#fff" stroke="#d2524a" stroke-width="1.5"/><path d="M903.5 661.5V749.8" stroke="#5c9f59" stroke-width="1.5"/><rect x="899.1" y="677.0" width="8.8" height="24.8" fill="#5c9f59"/><path d="M914.0 582.5V594.6M914.0 653.0V662.9" stroke="#d2524a" stroke-width="1.5"/><rect x="910.3" y="594.6" width="7.4" height="58.4" fill="#fff" stroke="#d2524a" stroke-width="1.5"/><path d="M924.5 528.9V545.8M924.5 665.7V667.1" stroke="#d2524a" stroke-width="1.5"/><rect x="920.8" y="545.8" width="7.4" height="119.9" fill="#fff" stroke="#d2524a" stroke-width="1.5"/><path d="M935.0 456.4V521.8M935.0 530.3V545.8" stroke="#d2524a" stroke-width="1.5"/><rect x="931.3" y="521.8" width="7.4" height="8.5" fill="#fff" stroke="#d2524a" stroke-width="1.5"/><path d="M945.5 505.5V561.9" stroke="#5c9f59" stroke-width="1.5"/><rect x="941.1" y="531.7" width="8.8" height="16.1" fill="#5c9f59"/><path d="M956.0 468.8V588.1" stroke="#5c9f59" stroke-width="1.5"/><rect x="951.6" y="514.2" width="8.8" height="59.8" fill="#5c9f59"/><path d="M966.5 464.8V490.2M966.5 559.9V598.0" stroke="#d2524a" stroke-width="1.5"/><rect x="962.8" y="490.2" width="7.4" height="69.7" fill="#fff" stroke="#d2524a" stroke-width="1.5"/><path d="M977.0 423.1V509.1M977.0 513.4V524.7" stroke="#d2524a" stroke-width="1.5"/><rect x="973.3" y="509.1" width="7.4" height="4.2" fill="#fff" stroke="#d2524a" stroke-width="1.5"/><path d="M987.5 515.6V585.3" stroke="#5c9f59" stroke-width="1.5"/><rect x="983.1" y="524.7" width="8.8" height="30.5" fill="#5c9f59"/><path d="M998.0 568.4V588.1M998.0 619.2V681.3" stroke="#d2524a" stroke-width="1.5"/><rect x="994.3" y="588.1" width="7.4" height="31.0" fill="#fff" stroke="#d2524a" stroke-width="1.5"/><path d="M1008.5 585.3V744.2" stroke="#5c9f59" stroke-width="1.5"/><rect x="1004.1" y="586.2" width="8.8" height="127.5" fill="#5c9f59"/><path d="M1019.0 689.7V761.7" stroke="#5c9f59" stroke-width="1.5"/><rect x="1014.6" y="724.4" width="8.8" height="23.1" fill="#5c9f59"/><path d="M1029.5 644.6V666.6M1029.5 723.0V725.0" stroke="#d2524a" stroke-width="1.5"/><rect x="1025.8" y="666.6" width="7.4" height="56.4" fill="#fff" stroke="#d2524a" stroke-width="1.5"/><path d="M1040.0 619.2V709.5" stroke="#5c9f59" stroke-width="1.5"/><rect x="1035.6" y="648.8" width="8.8" height="44.3" fill="#5c9f59"/><path d="M1050.5 696.8V796.9" stroke="#5c9f59" stroke-width="1.5"/><rect x="1046.1" y="712.3" width="8.8" height="59.3" fill="#5c9f59"/><path d="M1061.0 775.9V878.9" stroke="#5c9f59" stroke-width="1.5"/><rect x="1056.6" y="786.8" width="8.8" height="65.9" fill="#5c9f59"/><path d="M1071.5 787.2V804.8M1071.5 868.0V885.0" stroke="#d2524a" stroke-width="1.5"/><rect x="1067.8" y="804.8" width="7.4" height="63.2" fill="#fff" stroke="#d2524a" stroke-width="1.5"/><path d="M1082.0 750.4V780.9M1082.0 785.7V804.0" stroke="#d2524a" stroke-width="1.5"/><rect x="1078.3" y="780.9" width="7.4" height="4.8" fill="#fff" stroke="#d2524a" stroke-width="1.5"/><path d="M1092.5 727.8V770.1M1092.5 778.6V788.5" stroke="#d2524a" stroke-width="1.5"/><rect x="1088.8" y="770.1" width="7.4" height="8.5" fill="#fff" stroke="#d2524a" stroke-width="1.5"/><path d="M1103.0 685.5V788.5" stroke="#5c9f59" stroke-width="1.5"/><rect x="1098.6" y="725.0" width="8.8" height="30.5" fill="#5c9f59"/><path d="M1113.5 622.8V628.5M1113.5 767.9V785.7" stroke="#d2524a" stroke-width="1.5"/><rect x="1109.8" y="628.5" width="7.4" height="139.4" fill="#fff" stroke="#d2524a" stroke-width="1.5"/><path d="M1124.0 585.3V653.0" stroke="#5c9f59" stroke-width="1.5"/><rect x="1119.6" y="624.8" width="8.8" height="21.2" fill="#5c9f59"/><path d="M1134.5 623.4V686.9" stroke="#5c9f59" stroke-width="1.5"/><rect x="1130.1" y="665.8" width="8.8" height="2.4" fill="#5c9f59"/><path d="M1145.0 657.3V709.5" stroke="#5c9f59" stroke-width="1.5"/><rect x="1140.6" y="681.3" width="8.8" height="9.9" fill="#5c9f59"/><path d="M1155.5 656.9V767.0" stroke="#5c9f59" stroke-width="1.5"/><rect x="1151.1" y="692.2" width="8.8" height="73.4" fill="#5c9f59"/><path d="M1166.0 758.5V950.4" stroke="#5c9f59" stroke-width="1.5"/><rect x="1161.6" y="785.3" width="8.8" height="165.1" fill="#5c9f59"/><path d="M1176.5 892.5V943.3M1176.5 968.7V985.7" stroke="#d2524a" stroke-width="1.5"/><rect x="1172.8" y="943.3" width="7.4" height="25.4" fill="#fff" stroke="#d2524a" stroke-width="1.5"/><path d="M1187.0 889.7V1022.3" stroke="#5c9f59" stroke-width="1.5"/><rect x="1182.6" y="927.2" width="8.8" height="64.9" fill="#5c9f59"/><path d="M1197.5 951.8V978.6M1197.5 1001.2V1008.2" stroke="#d2524a" stroke-width="1.5"/><rect x="1193.8" y="978.6" width="7.4" height="22.6" fill="#fff" stroke="#d2524a" stroke-width="1.5"/><path d="M1208.0 934.9V958.8M1208.0 989.0V1008.2" stroke="#d2524a" stroke-width="1.5"/><rect x="1204.3" y="958.8" width="7.4" height="30.2" fill="#fff" stroke="#d2524a" stroke-width="1.5"/><path d="M1218.5 854.4V870.0M1218.5 930.6V971.5" stroke="#d2524a" stroke-width="1.5"/><rect x="1214.8" y="870.0" width="7.4" height="60.7" fill="#fff" stroke="#d2524a" stroke-width="1.5"/><path d="M1229.0 811.6V898.2" stroke="#5c9f59" stroke-width="1.5"/><rect x="1224.6" y="846.8" width="8.8" height="35.8" fill="#5c9f59"/><path d="M1239.5 879.8V1002.6" stroke="#5c9f59" stroke-width="1.5"/><rect x="1235.1" y="884.1" width="8.8" height="103.6" fill="#5c9f59"/><path d="M1250.0 986.5V1087.4" stroke="#5c9f59" stroke-width="1.5"/><rect x="1245.6" y="1014.8" width="8.8" height="2.7" fill="#5c9f59"/><path d="M1260.5 959.5V965.8M1260.5 1002.3V1063.3" stroke="#d2524a" stroke-width="1.5"/><rect x="1256.8" y="965.8" width="7.4" height="36.6" fill="#fff" stroke="#d2524a" stroke-width="1.5"/><path d="M1271.0 913.1V936.3M1271.0 955.5V1008.2" stroke="#d2524a" stroke-width="1.5"/><rect x="1267.3" y="936.3" width="7.4" height="19.2" fill="#fff" stroke="#d2524a" stroke-width="1.5"/><path d="M1281.5 878.4V892.5M1281.5 950.4V960.3" stroke="#d2524a" stroke-width="1.5"/><rect x="1277.8" y="892.5" width="7.4" height="57.8" fill="#fff" stroke="#d2524a" stroke-width="1.5"/><path d="M1292.0 848.8V898.2" stroke="#5c9f59" stroke-width="1.5"/><rect x="1287.6" y="870.0" width="8.8" height="16.1" fill="#5c9f59"/><path d="M1302.5 837.0V897.3" stroke="#5c9f59" stroke-width="1.5"/><rect x="1298.1" y="880.7" width="8.8" height="3.4" fill="#5c9f59"/><path d="M1313.0 884.1V987.6" stroke="#5c9f59" stroke-width="1.5"/><rect x="1308.6" y="890.6" width="8.8" height="85.2" fill="#5c9f59"/><path d="M1323.5 929.2V943.3M1323.5 958.8V991.3" stroke="#d2524a" stroke-width="1.5"/><rect x="1319.8" y="943.3" width="7.4" height="15.5" fill="#fff" stroke="#d2524a" stroke-width="1.5"/><path d="M1334.0 868.0V940.5M1334.0 962.5V977.2" stroke="#d2524a" stroke-width="1.5"/><rect x="1330.3" y="940.5" width="7.4" height="22.0" fill="#fff" stroke="#d2524a" stroke-width="1.5"/><path d="M1344.5 824.0V837.0M1344.5 917.9V925.0" stroke="#d2524a" stroke-width="1.5"/><rect x="1340.8" y="837.0" width="7.4" height="81.0" fill="#fff" stroke="#d2524a" stroke-width="1.5"/><path d="M1355.0 833.3V936.8" stroke="#5c9f59" stroke-width="1.5"/><rect x="1350.6" y="836.7" width="8.8" height="100.2" fill="#5c9f59"/><path d="M1365.5 906.6V926.4M1365.5 931.2V982.8" stroke="#d2524a" stroke-width="1.5"/><rect x="1361.8" y="926.4" width="7.4" height="4.8" fill="#fff" stroke="#d2524a" stroke-width="1.5"/><path d="M1376.0 845.4V856.4M1376.0 922.2V945.3" stroke="#d2524a" stroke-width="1.5"/><rect x="1372.3" y="856.4" width="7.4" height="65.7" fill="#fff" stroke="#d2524a" stroke-width="1.5"/><path d="M1386.5 822.8V847.4M1386.5 852.2V868.6" stroke="#d2524a" stroke-width="1.5"/><rect x="1382.8" y="847.4" width="7.4" height="4.8" fill="#fff" stroke="#d2524a" stroke-width="1.5"/><path d="M1397.0 817.2V874.2" stroke="#5c9f59" stroke-width="1.5"/><rect x="1392.6" y="855.9" width="8.8" height="13.3" fill="#5c9f59"/><path d="M1407.5 792.4V821.2M1407.5 868.6V891.1" stroke="#d2524a" stroke-width="1.5"/><rect x="1403.8" y="821.2" width="7.4" height="47.4" fill="#fff" stroke="#d2524a" stroke-width="1.5"/><path d="M1418.0 752.3V761.3M1418.0 815.5V848.8" stroke="#d2524a" stroke-width="1.5"/><rect x="1414.3" y="761.3" width="7.4" height="54.2" fill="#fff" stroke="#d2524a" stroke-width="1.5"/><path d="M1428.5 744.4V810.7" stroke="#5c9f59" stroke-width="1.5"/><rect x="1424.1" y="747.2" width="8.8" height="35.8" fill="#5c9f59"/><path d="M1439.0 728.9V796.6" stroke="#5c9f59" stroke-width="1.5"/><rect x="1434.6" y="733.1" width="8.8" height="44.6" fill="#5c9f59"/><path d="M1449.5 727.5V751.5M1449.5 761.9V775.4" stroke="#d2524a" stroke-width="1.5"/><rect x="1445.8" y="751.5" width="7.4" height="10.4" fill="#fff" stroke="#d2524a" stroke-width="1.5"/><path d="M1460.0 662.6V683.7M1460.0 751.5V751.5" stroke="#d2524a" stroke-width="1.5"/><rect x="1456.3" y="683.7" width="7.4" height="67.7" fill="#fff" stroke="#d2524a" stroke-width="1.5"/><path d="M1470.5 659.2V745.8" stroke="#5c9f59" stroke-width="1.5"/><rect x="1466.1" y="671.9" width="8.8" height="69.1" fill="#5c9f59"/><path d="M1481.0 703.5V723.2M1481.0 741.6V750.0" stroke="#d2524a" stroke-width="1.5"/><rect x="1477.3" y="723.2" width="7.4" height="18.3" fill="#fff" stroke="#d2524a" stroke-width="1.5"/><path d="M1491.5 678.1V688.0M1491.5 716.2V767.0" stroke="#d2524a" stroke-width="1.5"/><rect x="1487.8" y="688.0" width="7.4" height="28.2" fill="#fff" stroke="#d2524a" stroke-width="1.5"/><path d="M1502.0 669.6V751.5" stroke="#5c9f59" stroke-width="1.5"/><rect x="1497.6" y="683.7" width="8.8" height="6.5" fill="#5c9f59"/><path d="M1512.5 661.2V802.2" stroke="#5c9f59" stroke-width="1.5"/><rect x="1508.1" y="683.7" width="8.8" height="117.9" fill="#5c9f59"/><path d="M1523.0 792.4V855.9" stroke="#5c9f59" stroke-width="1.5"/><rect x="1518.6" y="805.1" width="8.8" height="37.2" fill="#5c9f59"/><path d="M1533.5 844.7V927.9" stroke="#5c9f59" stroke-width="1.5"/><rect x="1529.1" y="846.9" width="8.8" height="55.0" fill="#5c9f59"/><path d="M1544.0 898.3V1004.9" stroke="#5c9f59" stroke-width="1.5"/><rect x="1539.6" y="910.1" width="8.8" height="89.7" fill="#5c9f59"/><path d="M1554.5 942.0V968.2M1554.5 994.2V1039.9" stroke="#d2524a" stroke-width="1.5"/><rect x="1550.8" y="968.2" width="7.4" height="26.0" fill="#fff" stroke="#d2524a" stroke-width="1.5"/><path d="M1565.0 920.8V1029.5" stroke="#5c9f59" stroke-width="1.5"/><rect x="1560.6" y="966.0" width="8.8" height="43.7" fill="#5c9f59"/><path d="M1575.5 982.9V1081.7" stroke="#5c9f59" stroke-width="1.5"/><rect x="1571.1" y="1023.0" width="8.8" height="3.4" fill="#5c9f59"/><path d="M1586.0 989.1V1151.6" stroke="#5c9f59" stroke-width="1.5"/><rect x="1581.6" y="1025.2" width="8.8" height="123.6" fill="#5c9f59"/><path d="M1596.5 1089.9V1101.2M1596.5 1116.7V1194.3" stroke="#d2524a" stroke-width="1.5"/><rect x="1592.8" y="1101.2" width="7.4" height="15.5" fill="#fff" stroke="#d2524a" stroke-width="1.5"/><path d="M1607.0 1039.9V1046.4M1607.0 1095.8V1126.3" stroke="#d2524a" stroke-width="1.5"/><rect x="1603.3" y="1046.4" width="7.4" height="49.4" fill="#fff" stroke="#d2524a" stroke-width="1.5"/><path d="M1617.5 1012.5V1070.4" stroke="#5c9f59" stroke-width="1.5"/><rect x="1613.1" y="1036.0" width="8.8" height="5.6" fill="#5c9f59"/><path d="M1628.0 999.3V1052.0" stroke="#5c9f59" stroke-width="1.5"/><rect x="1623.6" y="1016.8" width="8.8" height="24.8" fill="#5c9f59"/><path d="M1638.5 1036.5V1159.0" stroke="#5c9f59" stroke-width="1.5"/><rect x="1634.1" y="1043.0" width="8.8" height="94.8" fill="#5c9f59"/><path d="M1649.0 1111.0V1188.6" stroke="#5c9f59" stroke-width="1.5"/><rect x="1644.6" y="1116.1" width="8.8" height="18.9" fill="#5c9f59"/><path d="M1659.5 1104.0V1178.8" stroke="#5c9f59" stroke-width="1.5"/><rect x="1655.1" y="1127.4" width="8.8" height="4.0" fill="#5c9f59"/><path d="M1670.0 1144.3V1271.3" stroke="#5c9f59" stroke-width="1.5"/><rect x="1665.6" y="1153.4" width="8.8" height="53.0" fill="#5c9f59"/><path d="M1680.5 1115.3V1163.8M1680.5 1204.2V1245.1" stroke="#d2524a" stroke-width="1.5"/><rect x="1676.8" y="1163.8" width="7.4" height="40.3" fill="#fff" stroke="#d2524a" stroke-width="1.5"/><path d="M1691.0 1119.5V1218.3" stroke="#5c9f59" stroke-width="1.5"/><rect x="1686.6" y="1147.7" width="8.8" height="69.1" fill="#5c9f59"/><path d="M1701.5 1183.0V1344.7" stroke="#5c9f59" stroke-width="1.5"/><rect x="1697.1" y="1219.7" width="8.8" height="94.5" fill="#5c9f59"/><path d="M1712.0 1312.8V1413.0" stroke="#5c9f59" stroke-width="1.5"/><rect x="1707.6" y="1328.3" width="8.8" height="75.6" fill="#5c9f59"/><path d="M1722.5 1357.9V1391.8M1722.5 1417.2V1434.1" stroke="#d2524a" stroke-width="1.5"/><rect x="1718.8" y="1391.8" width="7.4" height="25.4" fill="#fff" stroke="#d2524a" stroke-width="1.5"/><path d="M1733.0 1341.0V1413.0" stroke="#d2524a" stroke-width="1.5"/><rect x="1728.6" y="1405.8" width="8.8" height="3.1" fill="#d2524a"/><path d="M1743.5 1353.1V1459.5" stroke="#5c9f59" stroke-width="1.5"/><rect x="1739.1" y="1415.8" width="8.8" height="14.7" fill="#5c9f59"/><path d="M1754.0 1317.0V1323.2M1754.0 1403.6V1427.1" stroke="#d2524a" stroke-width="1.5"/><rect x="1750.3" y="1323.2" width="7.4" height="80.4" fill="#fff" stroke="#d2524a" stroke-width="1.5"/><path d="M1764.5 1283.2V1404.5" stroke="#5c9f59" stroke-width="1.5"/><rect x="1760.1" y="1312.8" width="8.8" height="74.8" fill="#5c9f59"/><path d="M1775.0 1263.4V1276.1M1775.0 1400.3V1413.0" stroke="#d2524a" stroke-width="1.5"/><rect x="1771.3" y="1276.1" width="7.4" height="124.2" fill="#fff" stroke="#d2524a" stroke-width="1.5"/><path d="M1785.5 1233.8V1305.7" stroke="#5c9f59" stroke-width="1.5"/><rect x="1781.1" y="1266.8" width="8.8" height="36.1" fill="#5c9f59"/><path d="M1796.0 1238.9V1251.6M1796.0 1326.9V1339.6" stroke="#d2524a" stroke-width="1.5"/><rect x="1792.3" y="1251.6" width="7.4" height="75.3" fill="#fff" stroke="#d2524a" stroke-width="1.5"/><path d="M1806.5 1192.9V1284.6" stroke="#5c9f59" stroke-width="1.5"/><rect x="1802.1" y="1263.4" width="8.8" height="18.3" fill="#5c9f59"/><path d="M1817.0 1204.2V1220.2M1817.0 1262.0V1295.9" stroke="#d2524a" stroke-width="1.5"/><rect x="1813.3" y="1220.2" width="7.4" height="41.8" fill="#fff" stroke="#d2524a" stroke-width="1.5"/><path d="M1827.5 1190.0V1260.6" stroke="#5c9f59" stroke-width="1.5"/><rect x="1823.1" y="1217.7" width="8.8" height="38.7" fill="#5c9f59"/><path d="M1838.0 1111.0V1118.7M1838.0 1251.3V1273.3" stroke="#d2524a" stroke-width="1.5"/><rect x="1834.3" y="1118.7" width="7.4" height="132.6" fill="#fff" stroke="#d2524a" stroke-width="1.5"/><path d="M1848.5 1076.0V1085.1M1848.5 1116.1V1144.9" stroke="#d2524a" stroke-width="1.5"/><rect x="1844.8" y="1085.1" width="7.4" height="31.1" fill="#fff" stroke="#d2524a" stroke-width="1.5"/><path d="M1859.0 1036.0V1143.5" stroke="#5c9f59" stroke-width="1.5"/><rect x="1854.6" y="1072.6" width="8.8" height="65.2" fill="#5c9f59"/><path d="M1869.5 1136.4V1141.5M1869.5 1158.4V1188.6" stroke="#d2524a" stroke-width="1.5"/><rect x="1865.8" y="1141.5" width="7.4" height="16.9" fill="#fff" stroke="#d2524a" stroke-width="1.5"/><path d="M1880.0 1116.1V1216.9" stroke="#5c9f59" stroke-width="1.5"/><rect x="1875.6" y="1154.5" width="8.8" height="2.4" fill="#5c9f59"/><path d="M1890.5 1119.7V1204.3" stroke="#5c9f59" stroke-width="1.5"/><rect x="1886.1" y="1121.9" width="8.8" height="68.3" fill="#5c9f59"/><path d="M1901.0 1186.0V1253.7" stroke="#5c9f59" stroke-width="1.5"/><rect x="1896.6" y="1188.8" width="8.8" height="43.7" fill="#5c9f59"/><path d="M1911.5 1119.7V1146.5M1911.5 1232.0V1239.6" stroke="#d2524a" stroke-width="1.5"/><rect x="1907.8" y="1146.5" width="7.4" height="85.5" fill="#fff" stroke="#d2524a" stroke-width="1.5"/><path d="M1922.0 1147.9V1231.1" stroke="#5c9f59" stroke-width="1.5"/><rect x="1917.6" y="1167.6" width="8.8" height="45.1" fill="#5c9f59"/><path d="M1932.5 1191.6V1317.2" stroke="#5c9f59" stroke-width="1.5"/><rect x="1928.1" y="1195.0" width="8.8" height="120.2" fill="#5c9f59"/><path d="M1943.0 1257.9V1277.7M1943.0 1308.7V1331.3" stroke="#d2524a" stroke-width="1.5"/><rect x="1939.3" y="1277.7" width="7.4" height="31.0" fill="#fff" stroke="#d2524a" stroke-width="1.5"/><path d="M1953.5 1235.4V1248.1M1953.5 1267.2V1276.3" stroke="#d2524a" stroke-width="1.5"/><rect x="1949.8" y="1248.1" width="7.4" height="19.2" fill="#fff" stroke="#d2524a" stroke-width="1.5"/><path d="M1964.0 1204.3V1244.7M1964.0 1250.9V1273.5" stroke="#d2524a" stroke-width="1.5"/><rect x="1960.3" y="1244.7" width="7.4" height="6.2" fill="#fff" stroke="#d2524a" stroke-width="1.5"/><path d="M1974.5 1214.2V1252.3M1974.5 1272.0V1298.3" stroke="#d2524a" stroke-width="1.5"/><rect x="1970.8" y="1252.3" width="7.4" height="19.8" fill="#fff" stroke="#d2524a" stroke-width="1.5"/><path d="M1985.0 1174.1V1301.7" stroke="#5c9f59" stroke-width="1.5"/><rect x="1980.6" y="1200.7" width="8.8" height="100.2" fill="#5c9f59"/><path d="M1995.5 1259.3V1292.6M1995.5 1313.0V1313.0" stroke="#d2524a" stroke-width="1.5"/><rect x="1991.8" y="1292.6" width="7.4" height="20.3" fill="#fff" stroke="#d2524a" stroke-width="1.5"/><path d="M2006.0 1257.9V1267.8M2006.0 1274.0V1322.8" stroke="#d2524a" stroke-width="1.5"/><rect x="2002.3" y="1267.8" width="7.4" height="6.2" fill="#fff" stroke="#d2524a" stroke-width="1.5"/><path d="M2016.5 1195.9V1214.2M2016.5 1268.4V1280.5" stroke="#d2524a" stroke-width="1.5"/><rect x="2012.8" y="1214.2" width="7.4" height="54.2" fill="#fff" stroke="#d2524a" stroke-width="1.5"/><path d="M2027.0 1137.4V1183.2M2027.0 1205.7V1224.1" stroke="#d2524a" stroke-width="1.5"/><rect x="2023.3" y="1183.2" width="7.4" height="22.6" fill="#fff" stroke="#d2524a" stroke-width="1.5"/><path d="M2037.5 1149.3V1167.6M2037.5 1174.7V1185.4" stroke="#d2524a" stroke-width="1.5"/><rect x="2033.8" y="1167.6" width="7.4" height="7.1" fill="#fff" stroke="#d2524a" stroke-width="1.5"/><path d="M2048.0 1116.0V1133.8M2048.0 1165.7V1174.7" stroke="#d2524a" stroke-width="1.5"/><rect x="2044.3" y="1133.8" width="7.4" height="31.9" fill="#fff" stroke="#d2524a" stroke-width="1.5"/><path d="M2058.5 1056.2V1060.4M2058.5 1134.6V1136.6" stroke="#d2524a" stroke-width="1.5"/><rect x="2054.8" y="1060.4" width="7.4" height="74.2" fill="#fff" stroke="#d2524a" stroke-width="1.5"/><path d="M2069.0 1059.0V1126.7" stroke="#5c9f59" stroke-width="1.5"/><rect x="2064.6" y="1070.9" width="8.8" height="30.5" fill="#5c9f59"/><path d="M2079.5 1044.3V1112.6" stroke="#5c9f59" stroke-width="1.5"/><rect x="2075.1" y="1092.0" width="8.8" height="3.7" fill="#5c9f59"/><path d="M2090.0 1070.3V1126.2" stroke="#5c9f59" stroke-width="1.5"/><rect x="2085.6" y="1104.2" width="8.8" height="9.0" fill="#5c9f59"/><path d="M2100.5 1092.9V1123.9M2100.5 1131.0V1136.6" stroke="#d2524a" stroke-width="1.5"/><rect x="2096.8" y="1123.9" width="7.4" height="7.1" fill="#fff" stroke="#d2524a" stroke-width="1.5"/><path d="M2111.0 1085.0V1104.2M2111.0 1124.5V1156.4" stroke="#d2524a" stroke-width="1.5"/><rect x="2107.3" y="1104.2" width="7.4" height="20.3" fill="#fff" stroke="#d2524a" stroke-width="1.5"/><path d="M2121.5 1044.9V1059.0M2121.5 1101.3V1118.3" stroke="#d2524a" stroke-width="1.5"/><rect x="2117.8" y="1059.0" width="7.4" height="42.3" fill="#fff" stroke="#d2524a" stroke-width="1.5"/><path d="M2132.0 960.8V964.4M2132.0 1046.8V1058.1" stroke="#d2524a" stroke-width="1.5"/><rect x="2128.3" y="964.4" width="7.4" height="82.4" fill="#fff" stroke="#d2524a" stroke-width="1.5"/><path d="M2142.5 963.6V1012.4" stroke="#5c9f59" stroke-width="1.5"/><rect x="2138.1" y="971.5" width="8.8" height="24.5" fill="#5c9f59"/><path d="M2153.0 969.2V978.5M2153.0 991.8V1022.8" stroke="#d2524a" stroke-width="1.5"/><rect x="2149.3" y="978.5" width="7.4" height="13.3" fill="#fff" stroke="#d2524a" stroke-width="1.5"/><path d="M2163.5 910.0V922.1M2163.5 966.4V976.3" stroke="#d2524a" stroke-width="1.5"/><rect x="2159.8" y="922.1" width="7.4" height="44.3" fill="#fff" stroke="#d2524a" stroke-width="1.5"/><path d="M2174.0 869.6V929.7" stroke="#5c9f59" stroke-width="1.5"/><rect x="2169.6" y="876.7" width="8.8" height="41.2" fill="#5c9f59"/><path d="M2184.5 878.1V959.3" stroke="#5c9f59" stroke-width="1.5"/><rect x="2180.1" y="922.1" width="8.8" height="16.9" fill="#5c9f59"/><path d="M2195.0 902.9V965.0" stroke="#5c9f59" stroke-width="1.5"/><rect x="2190.6" y="932.5" width="8.8" height="15.5" fill="#5c9f59"/><path d="M2205.5 897.3V911.9M2205.5 957.4V970.6" stroke="#d2524a" stroke-width="1.5"/><rect x="2201.8" y="911.9" width="7.4" height="45.4" fill="#fff" stroke="#d2524a" stroke-width="1.5"/><path d="M2216.0 864.0V974.0" stroke="#5c9f59" stroke-width="1.5"/><rect x="2211.6" y="911.9" width="8.8" height="61.5" fill="#5c9f59"/><path d="M2226.5 941.0V1015.8" stroke="#5c9f59" stroke-width="1.5"/><rect x="2222.1" y="985.3" width="8.8" height="29.1" fill="#5c9f59"/><path d="M2237.0 963.6V973.5M2237.0 1013.5V1020.0" stroke="#d2524a" stroke-width="1.5"/><rect x="2233.3" y="973.5" width="7.4" height="40.1" fill="#fff" stroke="#d2524a" stroke-width="1.5"/><path d="M2247.5 913.6V936.2M2247.5 971.5V984.2" stroke="#d2524a" stroke-width="1.5"/><rect x="2243.8" y="936.2" width="7.4" height="35.3" fill="#fff" stroke="#d2524a" stroke-width="1.5"/><path d="M2258.0 910.0V1039.8" stroke="#5c9f59" stroke-width="1.5"/><rect x="2253.6" y="924.1" width="8.8" height="114.8" fill="#5c9f59"/><path d="M2268.5 1007.3V1029.9M2268.5 1055.3V1058.1" stroke="#d2524a" stroke-width="1.5"/><rect x="2264.8" y="1029.9" width="7.4" height="25.4" fill="#fff" stroke="#d2524a" stroke-width="1.5"/><path d="M2279.0 917.0V922.1M2279.0 1024.2V1024.2" stroke="#d2524a" stroke-width="1.5"/><rect x="2275.3" y="922.1" width="7.4" height="102.1" fill="#fff" stroke="#d2524a" stroke-width="1.5"/><path d="M2289.5 898.7V956.5" stroke="#5c9f59" stroke-width="1.5"/><rect x="2285.1" y="911.9" width="8.8" height="15.8" fill="#5c9f59"/><path d="M2300.0 813.5V834.6M2300.0 903.5V932.5" stroke="#d2524a" stroke-width="1.5"/><rect x="2296.3" y="834.6" width="7.4" height="68.8" fill="#fff" stroke="#d2524a" stroke-width="1.5"/><path d="M2310.5 817.0V887.5" stroke="#5c9f59" stroke-width="1.5"/><rect x="2306.1" y="818.4" width="8.8" height="14.1" fill="#5c9f59"/><path d="M2321.0 716.8V812.7" stroke="#5c9f59" stroke-width="1.5"/><rect x="2316.6" y="718.2" width="8.8" height="76.7" fill="#5c9f59"/><path d="M2331.5 781.7V887.5" stroke="#5c9f59" stroke-width="1.5"/><rect x="2327.1" y="794.4" width="8.8" height="84.7" fill="#5c9f59"/><path d="M2342.0 876.2V941.1" stroke="#5c9f59" stroke-width="1.5"/><rect x="2337.6" y="882.4" width="8.8" height="10.2" fill="#5c9f59"/><path d="M2352.5 874.8V947.3" stroke="#5c9f59" stroke-width="1.5"/><rect x="2348.1" y="901.1" width="8.8" height="40.1" fill="#5c9f59"/><path d="M2363.0 881.9V927.6M2363.0 962.3V965.1" stroke="#d2524a" stroke-width="1.5"/><rect x="2359.3" y="927.6" width="7.4" height="34.7" fill="#fff" stroke="#d2524a" stroke-width="1.5"/><path d="M2373.5 913.5V1018.7" stroke="#5c9f59" stroke-width="1.5"/><rect x="2369.1" y="933.2" width="8.8" height="71.4" fill="#5c9f59"/><path d="M2384.0 989.1V1006.6M2384.0 1011.7V1051.2" stroke="#d2524a" stroke-width="1.5"/><rect x="2380.3" y="1006.6" width="7.4" height="5.1" fill="#fff" stroke="#d2524a" stroke-width="1.5"/><path d="M2394.5 991.9V998.1M2394.5 1013.6V1044.1" stroke="#d2524a" stroke-width="1.5"/><rect x="2390.8" y="998.1" width="7.4" height="15.5" fill="#fff" stroke="#d2524a" stroke-width="1.5"/><path d="M2405.0 948.2V969.9M2405.0 991.9V1006.0" stroke="#d2524a" stroke-width="1.5"/><rect x="2401.3" y="969.9" width="7.4" height="22.0" fill="#fff" stroke="#d2524a" stroke-width="1.5"/><path d="M2415.5 953.8V1045.5" stroke="#5c9f59" stroke-width="1.5"/><rect x="2411.1" y="967.9" width="8.8" height="77.0" fill="#5c9f59"/><path d="M2426.0 980.6V1029.4M2426.0 1048.4V1048.4" stroke="#d2524a" stroke-width="1.5"/><rect x="2422.3" y="1029.4" width="7.4" height="18.9" fill="#fff" stroke="#d2524a" stroke-width="1.5"/><path d="M2436.5 1031.7V1112.1" stroke="#5c9f59" stroke-width="1.5"/><rect x="2432.1" y="1034.5" width="8.8" height="63.5" fill="#5c9f59"/><path d="M2447.0 1069.2V1126.2" stroke="#5c9f59" stroke-width="1.5"/><rect x="2442.6" y="1095.2" width="8.8" height="29.1" fill="#5c9f59"/><path d="M2457.5 1109.3V1178.4" stroke="#5c9f59" stroke-width="1.5"/><rect x="2453.1" y="1118.3" width="8.8" height="38.9" fill="#5c9f59"/><path d="M2468.0 1136.1V1192.5" stroke="#5c9f59" stroke-width="1.5"/><rect x="2463.6" y="1148.2" width="8.8" height="10.4" fill="#5c9f59"/><path d="M2478.5 1155.9V1239.7" stroke="#5c9f59" stroke-width="1.5"/><rect x="2474.1" y="1156.7" width="8.8" height="71.1" fill="#5c9f59"/><path d="M2489.0 1118.3V1137.5M2489.0 1241.4V1241.4" stroke="#d2524a" stroke-width="1.5"/><rect x="2485.3" y="1137.5" width="7.4" height="103.8" fill="#fff" stroke="#d2524a" stroke-width="1.5"/><path d="M2499.5 1106.5V1177.0" stroke="#d2524a" stroke-width="1.5"/><rect x="2495.1" y="1124.4" width="8.8" height="3.6" fill="#d2524a"/><path d="M2510.0 1090.1V1154.4" stroke="#5c9f59" stroke-width="1.5"/><rect x="2505.6" y="1134.7" width="8.8" height="2.4" fill="#5c9f59"/><path d="M2520.5 1058.5V1069.2M2520.5 1131.9V1147.4" stroke="#d2524a" stroke-width="1.5"/><rect x="2516.8" y="1069.2" width="7.4" height="62.6" fill="#fff" stroke="#d2524a" stroke-width="1.5"/><path d="M2531.0 1040.7V1112.7" stroke="#5c9f59" stroke-width="1.5"/><rect x="2526.6" y="1053.4" width="8.8" height="48.0" fill="#5c9f59"/><path d="M2541.5 1086.7V1099.4M2541.5 1103.7V1136.1" stroke="#d2524a" stroke-width="1.5"/><rect x="2537.8" y="1099.4" width="7.4" height="4.2" fill="#fff" stroke="#d2524a" stroke-width="1.5"/><path d="M2552.0 1077.7V1158.7" stroke="#5c9f59" stroke-width="1.5"/><rect x="2547.6" y="1098.9" width="8.8" height="57.0" fill="#5c9f59"/><path d="M2562.5 1148.2V1234.9" stroke="#5c9f59" stroke-width="1.5"/><rect x="2558.1" y="1170.8" width="8.8" height="62.6" fill="#5c9f59"/><path d="M2573.0 1116.4V1136.1M2573.0 1234.0V1234.0" stroke="#d2524a" stroke-width="1.5"/><rect x="2569.3" y="1136.1" width="7.4" height="97.9" fill="#fff" stroke="#d2524a" stroke-width="1.5"/><path d="M2583.5 1103.7V1118.3M2583.5 1128.5V1144.6" stroke="#d2524a" stroke-width="1.5"/><rect x="2579.8" y="1118.3" width="7.4" height="10.2" fill="#fff" stroke="#d2524a" stroke-width="1.5"/><path d="M2594.0 1070.4V1092.4M2594.0 1122.0V1138.9" stroke="#d2524a" stroke-width="1.5"/><rect x="2590.3" y="1092.4" width="7.4" height="29.6" fill="#fff" stroke="#d2524a" stroke-width="1.5"/><path d="M2604.5 1059.9V1073.2M2604.5 1095.8V1103.7" stroke="#d2524a" stroke-width="1.5"/><rect x="2600.8" y="1073.2" width="7.4" height="22.6" fill="#fff" stroke="#d2524a" stroke-width="1.5"/><path d="M2615.0 1059.9V1171.4" stroke="#5c9f59" stroke-width="1.5"/><rect x="2610.6" y="1070.6" width="8.8" height="81.5" fill="#5c9f59"/><path d="M2625.5 1065.6V1086.7M2625.5 1158.7V1198.2" stroke="#d2524a" stroke-width="1.5"/><rect x="2621.8" y="1086.7" width="7.4" height="72.0" fill="#fff" stroke="#d2524a" stroke-width="1.5"/><path d="M2636.0 1059.9V1180.4" stroke="#5c9f59" stroke-width="1.5"/><rect x="2631.6" y="1086.7" width="8.8" height="76.2" fill="#5c9f59"/><path d="M2646.5 1151.6V1152.2M2646.5 1162.3V1191.1" stroke="#d2524a" stroke-width="1.5"/><rect x="2642.8" y="1152.2" width="7.4" height="10.2" fill="#fff" stroke="#d2524a" stroke-width="1.5"/><path d="M2657.0 1100.8V1178.4" stroke="#d2524a" stroke-width="1.5"/><rect x="2652.6" y="1148.7" width="8.8" height="3.1" fill="#d2524a"/><path d="M2667.5 1088.1V1106.5M2667.5 1164.3V1171.9" stroke="#d2524a" stroke-width="1.5"/><rect x="2663.8" y="1106.5" width="7.4" height="57.8" fill="#fff" stroke="#d2524a" stroke-width="1.5"/><path d="M2678.0 1024.7V1041.6M2678.0 1102.2V1109.3" stroke="#d2524a" stroke-width="1.5"/><rect x="2674.3" y="1041.6" width="7.4" height="60.7" fill="#fff" stroke="#d2524a" stroke-width="1.5"/><path d="M2688.5 1029.7V1151.1" stroke="#5c9f59" stroke-width="1.5"/><rect x="2684.1" y="1031.7" width="8.8" height="97.3" fill="#5c9f59"/><path d="M2699.0 1043.0V1064.2M2699.0 1131.3V1134.7" stroke="#d2524a" stroke-width="1.5"/><rect x="2695.3" y="1064.2" width="7.4" height="67.2" fill="#fff" stroke="#d2524a" stroke-width="1.5"/><path d="M2709.5 1043.0V1106.5" stroke="#5c9f59" stroke-width="1.5"/><rect x="2705.1" y="1063.6" width="8.8" height="27.4" fill="#5c9f59"/><path d="M2720.0 1051.5V1131.9" stroke="#5c9f59" stroke-width="1.5"/><rect x="2715.6" y="1077.7" width="8.8" height="36.7" fill="#5c9f59"/><path d="M2730.5 1075.5V1091.9M2730.5 1110.2V1144.1" stroke="#d2524a" stroke-width="1.5"/><rect x="2726.8" y="1091.9" width="7.4" height="18.3" fill="#fff" stroke="#d2524a" stroke-width="1.5"/><path d="M2741.0 1061.4V1168.1" stroke="#5c9f59" stroke-width="1.5"/><rect x="2736.6" y="1087.6" width="8.8" height="71.4" fill="#5c9f59"/><path d="M2751.5 1141.3V1205.3" stroke="#5c9f59" stroke-width="1.5"/><rect x="2747.1" y="1153.1" width="8.8" height="44.0" fill="#5c9f59"/><path d="M2762.0 1183.6V1276.7" stroke="#5c9f59" stroke-width="1.5"/><rect x="2757.6" y="1205.3" width="8.8" height="50.8" fill="#5c9f59"/><path d="M2772.5 1221.1V1230.1M2772.5 1251.3V1257.8" stroke="#d2524a" stroke-width="1.5"/><rect x="2768.8" y="1230.1" width="7.4" height="21.2" fill="#fff" stroke="#d2524a" stroke-width="1.5"/><path d="M2783.0 1169.5V1207.6M2783.0 1218.3V1235.8" stroke="#d2524a" stroke-width="1.5"/><rect x="2779.3" y="1207.6" width="7.4" height="10.7" fill="#fff" stroke="#d2524a" stroke-width="1.5"/><path d="M2793.5 1151.1V1169.5M2793.5 1211.8V1224.5" stroke="#d2524a" stroke-width="1.5"/><rect x="2789.8" y="1169.5" width="7.4" height="42.3" fill="#fff" stroke="#d2524a" stroke-width="1.5"/><path d="M2804.0 1141.3V1152.0M2804.0 1173.1V1175.1" stroke="#d2524a" stroke-width="1.5"/><rect x="2800.3" y="1152.0" width="7.4" height="21.2" fill="#fff" stroke="#d2524a" stroke-width="1.5"/><path d="M2814.5 1101.7V1116.7M2814.5 1148.3V1148.3" stroke="#d2524a" stroke-width="1.5"/><rect x="2810.8" y="1116.7" width="7.4" height="31.6" fill="#fff" stroke="#d2524a" stroke-width="1.5"/><path d="M2825.0 1089.6V1098.9M2825.0 1111.1V1131.4" stroke="#d2524a" stroke-width="1.5"/><rect x="2821.3" y="1098.9" width="7.4" height="12.1" fill="#fff" stroke="#d2524a" stroke-width="1.5"/><path d="M2835.5 1095.3V1159.6" stroke="#5c9f59" stroke-width="1.5"/><rect x="2831.1" y="1097.5" width="8.8" height="23.1" fill="#5c9f59"/><path d="M2846.0 1044.5V1118.7" stroke="#5c9f59" stroke-width="1.5"/><rect x="2841.6" y="1072.7" width="8.8" height="44.6" fill="#5c9f59"/><path d="M2856.5 1084.8V1155.4" stroke="#5c9f59" stroke-width="1.5"/><rect x="2852.1" y="1118.7" width="8.8" height="22.6" fill="#5c9f59"/><path d="M2867.0 1109.4V1117.8M2867.0 1142.1V1156.2" stroke="#d2524a" stroke-width="1.5"/><rect x="2863.3" y="1117.8" width="7.4" height="24.3" fill="#fff" stroke="#d2524a" stroke-width="1.5"/><path d="M2877.5 1097.0V1165.2" stroke="#5c9f59" stroke-width="1.5"/><rect x="2873.1" y="1105.4" width="8.8" height="57.6" fill="#5c9f59"/><path d="M2888.0 1152.5V1227.9" stroke="#5c9f59" stroke-width="1.5"/><rect x="2883.6" y="1159.6" width="8.8" height="45.1" fill="#5c9f59"/><path d="M2898.5 1189.2V1223.1" stroke="#5c9f59" stroke-width="1.5"/><rect x="2894.1" y="1200.8" width="8.8" height="2.4" fill="#5c9f59"/><path d="M2909.0 1133.6V1142.1M2909.0 1199.7V1203.3" stroke="#d2524a" stroke-width="1.5"/><rect x="2905.3" y="1142.1" width="7.4" height="57.6" fill="#fff" stroke="#d2524a" stroke-width="1.5"/><path d="M2919.5 1113.0V1124.3M2919.5 1144.1V1161.0" stroke="#d2524a" stroke-width="1.5"/><rect x="2915.8" y="1124.3" width="7.4" height="19.8" fill="#fff" stroke="#d2524a" stroke-width="1.5"/><path d="M2930.0 1113.0V1148.3" stroke="#d2524a" stroke-width="1.5"/><rect x="2925.6" y="1117.2" width="8.8" height="3.1" fill="#d2524a"/><path d="M2940.5 1017.1V1021.9M2940.5 1120.7V1121.5" stroke="#d2524a" stroke-width="1.5"/><rect x="2936.8" y="1021.9" width="7.4" height="98.8" fill="#fff" stroke="#d2524a" stroke-width="1.5"/><path d="M2951.0 986.9V1005.0M2951.0 1017.1V1054.6" stroke="#d2524a" stroke-width="1.5"/><rect x="2947.3" y="1005.0" width="7.4" height="12.1" fill="#fff" stroke="#d2524a" stroke-width="1.5"/><path d="M2961.5 995.9V1047.3" stroke="#5c9f59" stroke-width="1.5"/><rect x="2957.1" y="1008.6" width="8.8" height="29.6" fill="#5c9f59"/><path d="M2972.0 1034.9V1051.0M2972.0 1055.2V1068.7" stroke="#d2524a" stroke-width="1.5"/><rect x="2968.3" y="1051.0" width="7.4" height="4.2" fill="#fff" stroke="#d2524a" stroke-width="1.5"/><path d="M2982.5 1034.9V1084.8" stroke="#5c9f59" stroke-width="1.5"/><rect x="2978.1" y="1043.3" width="8.8" height="2.4" fill="#5c9f59"/><path d="M2993.0 1048.1V1118.7" stroke="#5c9f59" stroke-width="1.5"/><rect x="2988.6" y="1054.6" width="8.8" height="33.0" fill="#5c9f59"/><path d="M3003.5 1042.5V1057.4M3003.5 1076.4V1099.8" stroke="#d2524a" stroke-width="1.5"/><rect x="2999.8" y="1057.4" width="7.4" height="18.9" fill="#fff" stroke="#d2524a" stroke-width="1.5"/><path d="M3014.0 1029.2V1045.3M3014.0 1055.8V1065.1" stroke="#d2524a" stroke-width="1.5"/><rect x="3010.3" y="1045.3" width="7.4" height="10.4" fill="#fff" stroke="#d2524a" stroke-width="1.5"/><path d="M3024.5 1022.7V1076.4" stroke="#5c9f59" stroke-width="1.5"/><rect x="3020.1" y="1037.7" width="8.8" height="19.8" fill="#5c9f59"/><path d="M3035.0 1006.7V1021.9M3035.0 1043.3V1053.8" stroke="#d2524a" stroke-width="1.5"/><rect x="3031.3" y="1021.9" width="7.4" height="21.4" fill="#fff" stroke="#d2524a" stroke-width="1.5"/><path d="M3045.5 1008.6V1069.3" stroke="#5c9f59" stroke-width="1.5"/><rect x="3041.1" y="1021.9" width="8.8" height="31.9" fill="#5c9f59"/><path d="M3056.0 971.6V990.6M3056.0 1051.8V1066.6" stroke="#d2524a" stroke-width="1.5"/><rect x="3052.3" y="990.6" width="7.4" height="61.2" fill="#fff" stroke="#d2524a" stroke-width="1.5"/><path d="M3066.5 956.8V995.0" stroke="#d2524a" stroke-width="1.5"/><rect x="3062.1" y="975.9" width="8.8" height="3.0" fill="#d2524a"/><path d="M3077.0 906.6V928.9M3077.0 965.9V972.3" stroke="#d2524a" stroke-width="1.5"/><rect x="3073.3" y="928.9" width="7.4" height="37.0" fill="#fff" stroke="#d2524a" stroke-width="1.5"/><path d="M3087.5 872.8V879.5M3087.5 935.3V936.3" stroke="#d2524a" stroke-width="1.5"/><rect x="3083.8" y="879.5" width="7.4" height="55.8" fill="#fff" stroke="#d2524a" stroke-width="1.5"/><path d="M3098.0 830.9V896.3" stroke="#5c9f59" stroke-width="1.5"/><rect x="3093.6" y="852.3" width="8.8" height="37.0" fill="#5c9f59"/><path d="M3108.5 874.1V909.8" stroke="#5c9f59" stroke-width="1.5"/><rect x="3104.1" y="876.5" width="8.8" height="25.2" fill="#5c9f59"/><path d="M3119.0 878.5V937.0" stroke="#d2524a" stroke-width="1.5"/><path d="M3129.5 885.2V983.9" stroke="#5c9f59" stroke-width="1.5"/><rect x="3125.1" y="897.5" width="8.8" height="81.5" fill="#5c9f59"/><path d="M3140.0 970.8V1027.6" stroke="#5c9f59" stroke-width="1.5"/><rect x="3135.6" y="990.1" width="8.8" height="6.2" fill="#5c9f59"/><path d="M3150.5 969.1V1023.4" stroke="#5c9f59" stroke-width="1.5"/><rect x="3146.1" y="992.3" width="8.8" height="2.4" fill="#5c9f59"/><path d="M3161.0 979.7V1045.6" stroke="#5c9f59" stroke-width="1.5"/><rect x="3156.6" y="981.4" width="8.8" height="21.5" fill="#5c9f59"/></g>
<line x1="99.1" y1="1003.2" x2="3215.3" y2="1003.2" stroke="#2f8ff0" stroke-width="2" stroke-dasharray="5.4 5.1"/>
<polyline fill="none" stroke="#d9605a" stroke-width="1.4" stroke-linejoin="round" points="105.5,981.2 116.0,978.4 126.5,975.7 137.0,973.2 147.5,970.7 158.0,968.3 168.5,966.0 179.0,963.7 189.5,961.5 200.0,959.4 210.5,957.3 221.0,955.4 231.5,953.5 242.0,951.9 252.5,950.4 263.0,949.1 273.5,948.1 284.0,947.2 294.5,946.5 305.0,946.0 315.5,945.7 326.0,945.4 336.5,945.2 347.0,945.1 357.5,945.0 368.0,944.9 378.5,944.8 389.0,944.6 399.5,944.3 410.0,943.9 420.5,943.3 431.0,942.6 441.5,941.8 452.0,940.7 462.5,939.5 473.0,938.2 483.5,936.6 494.0,934.8 504.5,932.8 515.0,930.6 525.5,928.3 536.0,925.9 546.5,923.3 557.0,920.8 567.5,918.2 578.0,915.7 588.5,913.3 599.0,910.9 609.5,908.6 620.0,906.4 630.5,904.2 641.0,902.1 651.5,900.0 662.0,897.9 672.5,895.8 683.0,893.8 693.5,891.7 704.0,889.7 714.5,887.8 725.0,885.8 735.5,883.9 746.0,881.9 756.5,879.7 767.0,877.5 777.5,875.0 788.0,872.3 798.5,869.5 809.0,866.5 819.5,863.4 830.0,860.4 840.5,857.4 851.0,854.5 861.5,851.8 872.0,849.1 882.5,846.6 893.0,844.1 903.5,841.5 914.0,839.0 924.5,836.4 935.0,833.7 945.5,831.0 956.0,828.2 966.5,825.3 977.0,822.5 987.5,819.6 998.0,816.8 1008.5,814.0 1019.0,811.3 1029.5,808.7 1040.0,806.2 1050.5,803.7 1061.0,801.3 1071.5,798.9 1082.0,796.6 1092.5,794.3 1103.0,792.0 1113.5,789.8 1124.0,787.6 1134.5,785.6 1145.0,783.8 1155.5,782.1 1166.0,780.5 1176.5,779.2 1187.0,777.9 1197.5,776.8 1208.0,775.8 1218.5,774.9 1229.0,774.1 1239.5,773.3 1250.0,772.6 1260.5,771.9 1271.0,771.4 1281.5,770.9 1292.0,770.5 1302.5,770.2 1313.0,769.9 1323.5,769.7 1334.0,769.5 1344.5,769.2 1355.0,768.9 1365.5,768.5 1376.0,767.9 1386.5,767.3 1397.0,766.4 1407.5,765.4 1418.0,764.2 1428.5,762.9 1439.0,761.4 1449.5,760.0 1460.0,758.5 1470.5,757.1 1481.0,755.9 1491.5,754.9 1502.0,754.1 1512.5,753.7 1523.0,753.5 1533.5,753.6 1544.0,754.0 1554.5,754.7 1565.0,755.7 1575.5,756.8 1586.0,758.1 1596.5,759.5 1607.0,761.0 1617.5,762.5 1628.0,764.0 1638.5,765.6 1649.0,767.2 1659.5,769.0 1670.0,771.0 1680.5,773.2 1691.0,775.8 1701.5,778.8 1712.0,782.0 1722.5,785.6 1733.0,789.4 1743.5,793.5 1754.0,797.7 1764.5,802.1 1775.0,806.5 1785.5,811.0 1796.0,815.7 1806.5,820.6 1817.0,825.7 1827.5,831.2 1838.0,837.0 1848.5,843.2 1859.0,849.8 1869.5,856.9 1880.0,864.3 1890.5,872.0 1901.0,879.7 1911.5,887.4 1922.0,894.8 1932.5,901.8 1943.0,908.4 1953.5,914.4 1964.0,919.8 1974.5,924.6 1985.0,928.9 1995.5,932.6 2006.0,935.9 2016.5,938.7 2027.0,941.1 2037.5,943.3 2048.0,945.2 2058.5,946.9 2069.0,948.3 2079.5,949.5 2090.0,950.4 2100.5,951.1 2111.0,951.5 2121.5,951.6 2132.0,951.4 2142.5,951.0 2153.0,950.4 2163.5,949.8 2174.0,949.2 2184.5,948.6 2195.0,948.1 2205.5,947.7 2216.0,947.3 2226.5,947.1 2237.0,946.9 2247.5,946.7 2258.0,946.4 2268.5,946.0 2279.0,945.6 2289.5,945.0 2300.0,944.3 2310.5,943.5 2321.0,942.7 2331.5,941.9 2342.0,941.3 2352.5,940.7 2363.0,940.3 2373.5,940.0 2384.0,939.9 2394.5,939.8 2405.0,939.7 2415.5,939.7 2426.0,939.7 2436.5,939.7 2447.0,939.7 2457.5,939.7 2468.0,939.7 2478.5,939.7 2489.0,939.7 2499.5,939.7 2510.0,939.7 2520.5,939.7 2531.0,939.8 2541.5,939.8 2552.0,939.9 2562.5,940.2 2573.0,940.5 2583.5,941.1 2594.0,941.9 2604.5,942.8 2615.0,944.0 2625.5,945.4 2636.0,946.8 2646.5,948.4 2657.0,950.1 2667.5,951.7 2678.0,953.3 2688.5,954.8 2699.0,956.2 2709.5,957.6 2720.0,958.9 2730.5,960.2 2741.0,961.5 2751.5,962.8 2762.0,964.1 2772.5,965.5 2783.0,966.9 2793.5,968.3 2804.0,969.7 2814.5,971.2 2825.0,972.8 2835.5,974.5 2846.0,976.3 2856.5,978.4 2867.0,980.6 2877.5,983.0 2888.0,985.6 2898.5,988.4 2909.0,991.4 2919.5,994.4 2930.0,997.5 2940.5,1000.6 2951.0,1003.7 2961.5,1006.6 2972.0,1009.4 2982.5,1011.9 2993.0,1014.4 3003.5,1016.7 3014.0,1018.8 3024.5,1020.9 3035.0,1023.0 3045.5,1025.0 3056.0,1027.0 3066.5,1028.9 3077.0,1030.7 3087.5,1032.4 3098.0,1033.9 3108.5,1035.3 3119.0,1036.4 3129.5,1037.3 3140.0,1038.2 3150.5,1038.8 3161.0,1039.0"/>
<polyline fill="none" stroke="#8c8c8c" stroke-width="1.4" stroke-linejoin="round" points="105.5,721.2 116.0,718.3 126.5,716.8 137.0,715.6 147.5,714.1 158.0,713.1 168.5,712.3 179.0,711.5 189.5,710.8 200.0,710.3 210.5,710.0 221.0,709.8 231.5,709.8 242.0,710.1 252.5,710.5 263.0,711.1 273.5,711.9 284.0,712.8 294.5,713.8 305.0,714.8 315.5,715.9 326.0,717.1 336.5,718.3 347.0,719.5 357.5,720.8 368.0,722.1 378.5,723.3 389.0,724.5 399.5,725.6 410.0,726.6 420.5,727.6 431.0,728.5 441.5,729.3 452.0,730.3 462.5,731.3 473.0,732.4 483.5,733.6 494.0,734.7 504.5,735.8 515.0,736.8 525.5,737.7 536.0,738.3 546.5,738.8 557.0,739.1 567.5,739.3 578.0,739.3 588.5,739.5 599.0,739.8 609.5,740.3 620.0,741.3 630.5,742.7 641.0,744.7 651.5,747.1 662.0,749.9 672.5,753.0 683.0,756.3 693.5,759.7 704.0,763.3 714.5,766.8 725.0,770.4 735.5,774.1 746.0,778.0 756.5,782.2 767.0,786.6 777.5,791.4 788.0,796.7 798.5,802.6 809.0,809.1 819.5,816.2 830.0,823.9 840.5,832.0 851.0,840.4 861.5,848.8 872.0,856.9 882.5,864.5 893.0,871.2 903.5,876.9 914.0,881.3 924.5,884.4 935.0,886.2 945.5,886.9 956.0,886.6 966.5,885.6 977.0,884.2 987.5,882.7 998.0,881.1 1008.5,879.7 1019.0,878.3 1029.5,876.9 1040.0,875.3 1050.5,873.4 1061.0,871.1 1071.5,868.4 1082.0,865.3 1092.5,861.9 1103.0,858.3 1113.5,854.9 1124.0,851.6 1134.5,848.7 1145.0,846.3 1155.5,844.5 1166.0,843.1 1176.5,842.1 1187.0,841.4 1197.5,840.9 1208.0,840.4 1218.5,839.9 1229.0,839.2 1239.5,838.4 1250.0,837.5 1260.5,836.4 1271.0,835.3 1281.5,834.1 1292.0,832.9 1302.5,831.6 1313.0,830.3 1323.5,828.9 1334.0,827.4 1344.5,825.8 1355.0,824.0 1365.5,822.0 1376.0,819.9 1386.5,817.4 1397.0,814.7 1407.5,811.8 1418.0,808.6 1428.5,805.2 1439.0,801.6 1449.5,797.9 1460.0,794.1 1470.5,790.4 1481.0,786.8 1491.5,783.5 1502.0,780.5 1512.5,778.1 1523.0,776.2 1533.5,775.0 1544.0,774.5 1554.5,774.6 1565.0,775.3 1575.5,776.4 1586.0,778.0 1596.5,779.8 1607.0,781.9 1617.5,784.2 1628.0,786.8 1638.5,789.6 1649.0,792.6 1659.5,796.0 1670.0,799.6 1680.5,803.5 1691.0,807.5 1701.5,811.7 1712.0,816.0 1722.5,820.4 1733.0,824.8 1743.5,829.4 1754.0,834.0 1764.5,838.6 1775.0,843.3 1785.5,848.1 1796.0,852.9 1806.5,857.9 1817.0,863.1 1827.5,868.7 1838.0,874.7 1848.5,881.1 1859.0,887.9 1869.5,894.9 1880.0,902.2 1890.5,909.4 1901.0,916.5 1911.5,923.5 1922.0,930.4 1932.5,937.1 1943.0,943.8 1953.5,950.5 1964.0,957.3 1974.5,964.1 1985.0,971.0 1995.5,977.8 2006.0,984.5 2016.5,990.9 2027.0,996.9 2037.5,1002.6 2048.0,1007.8 2058.5,1012.6 2069.0,1016.8 2079.5,1020.7 2090.0,1024.2 2100.5,1027.4 2111.0,1030.3 2121.5,1033.0 2132.0,1035.6 2142.5,1038.2 2153.0,1040.7 2163.5,1043.1 2174.0,1045.3 2184.5,1047.3 2195.0,1049.2 2205.5,1050.7 2216.0,1051.9 2226.5,1052.7 2237.0,1053.3 2247.5,1053.7 2258.0,1053.8 2268.5,1053.7 2279.0,1053.5 2289.5,1053.1 2300.0,1052.7 2310.5,1052.2 2321.0,1051.7 2331.5,1051.4 2342.0,1051.2 2352.5,1051.2 2363.0,1051.5 2373.5,1052.1 2384.0,1052.9 2394.5,1054.1 2405.0,1055.6 2415.5,1057.5 2426.0,1059.6 2436.5,1062.1 2447.0,1064.8 2457.5,1067.8 2468.0,1071.0 2478.5,1074.4 2489.0,1078.0 2499.5,1081.8 2510.0,1085.7 2520.5,1089.7 2531.0,1093.7 2541.5,1097.5 2552.0,1101.0 2562.5,1104.2 2573.0,1107.0 2583.5,1109.3 2594.0,1111.2 2604.5,1112.7 2615.0,1113.9 2625.5,1114.8 2636.0,1115.4 2646.5,1116.0 2657.0,1116.3 2667.5,1116.5 2678.0,1116.6 2688.5,1116.5 2699.0,1116.2 2709.5,1115.7 2720.0,1114.9 2730.5,1114.0 2741.0,1112.9 2751.5,1111.5 2762.0,1110.1 2772.5,1108.5 2783.0,1106.8 2793.5,1105.0 2804.0,1103.3 2814.5,1101.5 2825.0,1099.8 2835.5,1098.3 2846.0,1097.0 2856.5,1095.9 2867.0,1095.1 2877.5,1094.4 2888.0,1094.0 2898.5,1093.7 2909.0,1093.3 2919.5,1092.9 2930.0,1092.2 2940.5,1091.3 2951.0,1090.0 2961.5,1088.4 2972.0,1086.6 2982.5,1084.5 2993.0,1082.2 3003.5,1079.9 3014.0,1077.4 3024.5,1074.9 3035.0,1072.5 3045.5,1070.0 3056.0,1067.6 3066.5,1065.3 3077.0,1063.1 3087.5,1061.0 3098.0,1059.1 3108.5,1057.3 3119.0,1055.6 3129.5,1054.0 3140.0,1052.5 3150.5,1051.1 3161.0,1049.8"/>
<polyline fill="none" stroke="#f39a2d" stroke-width="1.4" stroke-linejoin="round" points="105.5,530.2 116.0,533.0 126.5,536.1 137.0,539.2 147.5,542.3 158.0,545.4 168.5,548.6 179.0,552.1 189.5,556.2 200.0,560.9 210.5,566.4 221.0,572.5 231.5,579.2 242.0,586.2 252.5,593.3 263.0,600.6 273.5,608.5 284.0,616.7 294.5,625.5 305.0,635.0 315.5,645.4 326.0,656.8 336.5,669.7 347.0,684.1 357.5,700.5 368.0,718.8 378.5,739.1 389.0,761.0 399.5,784.6 410.0,809.3 420.5,834.6 431.0,860.0 441.5,884.9 452.0,908.7 462.5,930.8 473.0,950.6 483.5,967.8 494.0,981.9 504.5,993.1 515.0,1001.2 525.5,1006.9 536.0,1010.7 546.5,1013.2 557.0,1015.0 567.5,1016.2 578.0,1016.9 588.5,1017.2 599.0,1016.9 609.5,1016.0 620.0,1014.7 630.5,1013.1 641.0,1011.0 651.5,1008.6 662.0,1005.7 672.5,1002.5 683.0,999.1 693.5,995.6 704.0,992.3 714.5,989.3 725.0,986.6 735.5,983.9 746.0,981.1 756.5,977.9 767.0,973.7 777.5,968.4 788.0,961.8 798.5,953.8 809.0,944.7 819.5,934.9 830.0,924.7 840.5,914.8 851.0,905.4 861.5,896.7 872.0,888.8 882.5,881.5 893.0,874.2 903.5,866.8 914.0,858.9 924.5,850.5 935.0,841.5 945.5,832.0 956.0,822.3 966.5,812.5 977.0,802.8 987.5,793.3 998.0,784.3 1008.5,775.9 1019.0,768.2 1029.5,761.2 1040.0,754.9 1050.5,749.3 1061.0,744.0 1071.5,739.1 1082.0,734.2 1092.5,729.2 1103.0,724.1 1113.5,719.2 1124.0,714.8 1134.5,711.4 1145.0,709.0 1155.5,707.9 1166.0,707.9 1176.5,708.6 1187.0,709.8 1197.5,711.4 1208.0,713.1 1218.5,715.2 1229.0,717.6 1239.5,720.3 1250.0,722.9 1260.5,725.2 1271.0,726.9 1281.5,727.9 1292.0,728.3 1302.5,728.4 1313.0,728.3 1323.5,728.2 1334.0,728.3 1344.5,728.5 1355.0,728.9 1365.5,729.6 1376.0,730.5 1386.5,731.9 1397.0,733.9 1407.5,736.7 1418.0,740.2 1428.5,744.6 1439.0,749.6 1449.5,754.8 1460.0,760.1 1470.5,764.9 1481.0,769.1 1491.5,772.8 1502.0,776.2 1512.5,779.7 1523.0,783.6 1533.5,788.4 1544.0,794.1 1554.5,800.7 1565.0,808.2 1575.5,816.4 1586.0,825.0 1596.5,833.9 1607.0,842.6 1617.5,850.9 1628.0,858.9 1638.5,866.4 1649.0,873.6 1659.5,880.8 1670.0,888.1 1680.5,895.8 1691.0,903.9 1701.5,912.8 1712.0,922.3 1722.5,932.5 1733.0,943.0 1743.5,953.8 1754.0,964.2 1764.5,974.1 1775.0,983.2 1785.5,991.3 1796.0,998.5 1806.5,1004.7 1817.0,1010.2 1827.5,1014.9 1838.0,1019.0 1848.5,1022.7 1859.0,1026.1 1869.5,1029.3 1880.0,1032.7 1890.5,1036.5 1901.0,1040.7 1911.5,1045.2 1922.0,1050.2 1932.5,1055.4 1943.0,1060.7 1953.5,1066.1 1964.0,1071.8 1974.5,1077.6 1985.0,1083.6 1995.5,1089.8 2006.0,1096.0 2016.5,1102.2 2027.0,1108.4 2037.5,1114.6 2048.0,1120.9 2058.5,1127.1 2069.0,1133.3 2079.5,1139.4 2090.0,1145.4 2100.5,1151.0 2111.0,1156.3 2121.5,1161.0 2132.0,1165.0 2142.5,1168.0 2153.0,1170.0 2163.5,1171.0 2174.0,1171.0 2184.5,1170.3 2195.0,1169.1 2205.5,1167.4 2216.0,1165.5 2226.5,1163.3 2237.0,1161.1 2247.5,1158.8 2258.0,1156.5 2268.5,1154.1 2279.0,1151.3 2289.5,1148.0 2300.0,1143.9 2310.5,1138.8 2321.0,1132.9 2331.5,1126.2 2342.0,1119.0 2352.5,1111.7 2363.0,1104.4 2373.5,1097.4 2384.0,1090.9 2394.5,1085.0 2405.0,1079.7 2415.5,1075.2 2426.0,1071.6 2436.5,1068.9 2447.0,1067.1 2457.5,1065.9 2468.0,1065.3 2478.5,1064.9 2489.0,1064.5 2499.5,1064.0 2510.0,1063.3 2520.5,1062.4 2531.0,1061.4 2541.5,1060.3 2552.0,1058.9 2562.5,1057.3 2573.0,1055.3 2583.5,1053.1 2594.0,1050.6 2604.5,1048.1 2615.0,1045.6 2625.5,1043.4 2636.0,1041.6 2646.5,1040.2 2657.0,1039.1 2667.5,1038.4 2678.0,1037.9 2688.5,1037.6 2699.0,1037.5 2709.5,1037.6 2720.0,1038.0 2730.5,1038.8 2741.0,1040.2 2751.5,1042.4 2762.0,1045.2 2772.5,1048.6 2783.0,1052.3 2793.5,1056.1 2804.0,1059.8 2814.5,1063.1 2825.0,1066.3 2835.5,1069.3 2846.0,1072.2 2856.5,1075.1 2867.0,1078.2 2877.5,1081.3 2888.0,1084.5 2898.5,1087.7 2909.0,1091.0 2919.5,1094.4 2930.0,1097.7 2940.5,1101.0 2951.0,1104.2 2961.5,1107.2 2972.0,1109.8 2982.5,1112.0 2993.0,1113.8 3003.5,1115.1 3014.0,1116.0 3024.5,1116.6 3035.0,1116.6 3045.5,1116.0 3056.0,1114.7 3066.5,1112.6 3077.0,1109.7 3087.5,1106.2 3098.0,1102.3 3108.5,1098.4 3119.0,1094.7 3129.5,1091.5 3140.0,1088.9 3150.5,1086.6 3161.0,1085.1"/>
<polyline fill="none" stroke="#ee22ee" stroke-width="1.5" stroke-linejoin="round" points="105.5,617.9 116.0,660.7 126.5,703.5 137.0,746.7 147.5,789.4 158.0,829.5 168.5,864.3 179.0,893.7 189.5,918.6 200.0,939.8 210.5,956.8 221.0,969.9 231.5,979.6 242.0,987.1 252.5,994.3 263.0,1002.5 273.5,1011.6 284.0,1019.7 294.5,1026.5 305.0,1032.5 315.5,1038.8 326.0,1044.4 336.5,1047.9 347.0,1049.1 357.5,1048.9 368.0,1048.8 378.5,1049.4 389.0,1051.5 399.5,1055.0 410.0,1059.4 420.5,1063.5 431.0,1067.0 441.5,1070.0 452.0,1072.7 462.5,1074.9 473.0,1076.4 483.5,1076.9 494.0,1075.9 504.5,1073.4 515.0,1069.1 525.5,1063.5 536.0,1056.8 546.5,1050.5 557.0,1045.2 567.5,1040.5 578.0,1035.1 588.5,1027.8 599.0,1018.9 609.5,1008.7 620.0,998.2 630.5,988.4 641.0,980.0 651.5,972.7 662.0,965.7 672.5,958.3 683.0,950.4 693.5,942.0 704.0,933.4 714.5,924.9 725.0,916.7 735.5,908.9 746.0,900.8 756.5,891.6 767.0,880.0 777.5,865.8 788.0,849.8 798.5,832.8 809.0,814.9 819.5,795.9 830.0,776.3 840.5,758.0 851.0,742.9 861.5,731.5 872.0,723.6 882.5,717.6 893.0,712.4 903.5,706.9 914.0,701.1 924.5,694.9 935.0,688.0 945.5,679.5 956.0,669.2 966.5,657.2 977.0,644.6 987.5,632.7 998.0,622.2 1008.5,613.4 1019.0,606.1 1029.5,600.6 1040.0,596.7 1050.5,594.7 1061.0,593.8 1071.5,593.7 1082.0,594.3 1092.5,596.2 1103.0,599.5 1113.5,605.0 1124.0,612.7 1134.5,623.3 1145.0,636.0 1155.5,650.1 1166.0,664.2 1176.5,677.1 1187.0,688.1 1197.5,697.9 1208.0,707.9 1218.5,719.4 1229.0,732.8 1239.5,746.8 1250.0,760.5 1260.5,774.0 1271.0,787.5 1281.5,800.9 1292.0,812.9 1302.5,823.4 1313.0,832.1 1323.5,839.8 1334.0,846.7 1344.5,853.4 1355.0,859.6 1365.5,864.9 1376.0,868.4 1386.5,870.7 1397.0,872.5 1407.5,874.7 1418.0,877.6 1428.5,880.7 1439.0,883.2 1449.5,884.9 1460.0,884.6 1470.5,882.1 1481.0,876.7 1491.5,869.5 1502.0,861.8 1512.5,855.8 1523.0,852.5 1533.5,852.1 1544.0,853.2 1554.5,854.3 1565.0,855.6 1575.5,858.2 1586.0,862.7 1596.5,868.3 1607.0,873.9 1617.5,879.1 1628.0,884.1 1638.5,889.8 1649.0,896.5 1659.5,904.6 1670.0,913.8 1680.5,924.8 1691.0,937.6 1701.5,953.0 1712.0,970.2 1722.5,989.2 1733.0,1009.2 1743.5,1029.7 1754.0,1049.7 1764.5,1069.3 1775.0,1088.2 1785.5,1107.1 1796.0,1125.5 1806.5,1143.7 1817.0,1160.0 1827.5,1174.1 1838.0,1184.7 1848.5,1192.8 1859.0,1198.7 1869.5,1203.5 1880.0,1207.7 1890.5,1211.8 1901.0,1215.8 1911.5,1220.1 1922.0,1225.4 1932.5,1232.0 1943.0,1238.8 1953.5,1244.6 1964.0,1248.9 1974.5,1252.2 1985.0,1255.1 1995.5,1257.1 2006.0,1257.6 2016.5,1255.0 2027.0,1249.4 2037.5,1241.1 2048.0,1231.7 2058.5,1222.1 2069.0,1213.3 2079.5,1205.6 2090.0,1199.1 2100.5,1193.1 2111.0,1187.0 2121.5,1179.9 2132.0,1172.4 2142.5,1165.1 2153.0,1158.3 2163.5,1152.1 2174.0,1146.0 2184.5,1139.6 2195.0,1132.4 2205.5,1124.4 2216.0,1116.3 2226.5,1107.9 2237.0,1099.3 2247.5,1090.1 2258.0,1080.7 2268.5,1070.7 2279.0,1059.8 2289.5,1047.3 2300.0,1033.8 2310.5,1019.5 2321.0,1005.8 2331.5,993.6 2342.0,983.9 2352.5,976.7 2363.0,971.7 2373.5,967.9 2384.0,964.6 2394.5,961.3 2405.0,958.0 2415.5,955.4 2426.0,954.4 2436.5,955.7 2447.0,959.5 2457.5,965.4 2468.0,972.5 2478.5,980.0 2489.0,987.1 2499.5,993.5 2510.0,999.3 2520.5,1004.5 2531.0,1009.4 2541.5,1014.5 2552.0,1020.2 2562.5,1025.9 2573.0,1031.0 2583.5,1035.7 2594.0,1040.9 2604.5,1047.3 2615.0,1055.5 2625.5,1065.2 2636.0,1075.4 2646.5,1084.6 2657.0,1092.2 2667.5,1098.2 2678.0,1102.8 2688.5,1106.5 2699.0,1109.7 2709.5,1113.0 2720.0,1116.6 2730.5,1120.4 2741.0,1124.3 2751.5,1127.9 2762.0,1131.1 2772.5,1133.2 2783.0,1134.3 2793.5,1134.4 2804.0,1133.9 2814.5,1133.4 2825.0,1133.1 2835.5,1133.0 2846.0,1133.1 2856.5,1133.4 2867.0,1134.0 2877.5,1134.9 2888.0,1136.2 2898.5,1137.7 2909.0,1138.6 2919.5,1138.8 2930.0,1137.6 2940.5,1135.5 2951.0,1132.7 2961.5,1129.6 2972.0,1127.0 2982.5,1125.1 2993.0,1123.7 3003.5,1122.6 3014.0,1121.4 3024.5,1120.2 3035.0,1118.5 3045.5,1115.8 3056.0,1110.9 3066.5,1103.2 3077.0,1093.0 3087.5,1081.5 3098.0,1070.4 3108.5,1060.9 3119.0,1053.6 3129.5,1048.3 3140.0,1044.3 3150.5,1041.2 3161.0,1038.4"/>
<polyline fill="none" stroke="#1d1d9a" stroke-width="1.4" stroke-linejoin="round" points="105.5,1072.9 116.0,1068.7 126.5,1065.9 137.0,1056.0 147.5,1036.2 158.0,1023.5 168.5,1008.0 179.0,1002.4 189.5,996.7 200.0,994.4 210.5,1000.6 221.0,1011.0 231.5,1030.3 242.0,1033.0 252.5,1027.5 263.0,1018.3 273.5,1034.1 284.0,1031.0 294.5,1026.6 305.0,1034.7 315.5,1042.6 326.0,1051.5 336.5,1054.1 347.0,1056.4 357.5,1078.2 368.0,1100.6 378.5,1102.6 389.0,1115.3 399.5,1138.4 410.0,1141.3 420.5,1140.0 431.0,1134.2 441.5,1126.5 452.0,1125.6 462.5,1122.0 473.0,1116.1 483.5,1108.8 494.0,1089.3 504.5,1061.5 515.0,1040.2 525.5,1013.4 536.0,990.8 546.5,972.0 557.0,954.2 567.5,928.9 578.0,900.3 588.5,875.5 599.0,862.6 609.5,835.2 620.0,816.6 630.5,815.0 641.0,815.2 651.5,825.5 662.0,827.6 672.5,830.1 683.0,838.3 693.5,854.4 704.0,861.0 714.5,881.9 725.0,899.9 735.5,899.7 746.0,896.0 756.5,889.4 767.0,872.8 777.5,851.0 788.0,819.9 798.5,766.9 809.0,732.6 819.5,671.1 830.0,616.2 840.5,562.2 851.0,528.4 861.5,485.8 872.0,474.9 882.5,477.9 893.0,486.1 903.5,510.5 914.0,515.2 924.5,542.8 935.0,562.4 945.5,588.8 956.0,598.2 966.5,600.5 977.0,588.0 987.5,572.1 998.0,562.9 1008.5,564.0 1019.0,579.3 1029.5,591.4 1040.0,608.5 1050.5,630.9 1061.0,658.8 1071.5,690.2 1082.0,717.4 1092.5,738.9 1103.0,755.6 1113.5,747.1 1124.0,737.0 1134.5,737.1 1145.0,736.9 1155.5,736.3 1166.0,746.0 1176.5,759.9 1187.0,781.0 1197.5,801.9 1208.0,822.2 1218.5,846.3 1229.0,870.0 1239.5,902.0 1250.0,934.7 1260.5,954.7 1271.0,953.3 1281.5,948.2 1292.0,937.6 1302.5,928.1 1313.0,929.8 1323.5,937.2 1334.0,942.9 1344.5,927.9 1355.0,919.8 1365.5,915.9 1376.0,907.9 1386.5,903.4 1397.0,901.7 1407.5,895.4 1418.0,873.9 1428.5,857.9 1439.0,841.6 1449.5,833.1 1460.0,807.8 1470.5,789.2 1481.0,775.9 1491.5,760.0 1502.0,742.1 1512.5,740.1 1523.0,748.2 1533.5,760.1 1544.0,782.3 1554.5,804.0 1565.0,836.6 1575.5,865.2 1586.0,907.7 1596.5,949.0 1607.0,984.7 1617.5,1008.6 1628.0,1028.6 1638.5,1052.2 1649.0,1065.7 1659.5,1082.0 1670.0,1101.7 1680.5,1115.4 1691.0,1122.2 1701.5,1143.5 1712.0,1179.3 1722.5,1214.3 1733.0,1250.7 1743.5,1280.0 1754.0,1298.8 1764.5,1324.4 1775.0,1331.4 1785.5,1345.3 1796.0,1348.8 1806.5,1345.5 1817.0,1327.2 1827.5,1313.6 1838.0,1284.9 1848.5,1250.3 1859.0,1231.8 1869.5,1207.2 1880.0,1195.2 1890.5,1183.9 1901.0,1182.0 1911.5,1168.5 1922.0,1167.8 1932.5,1173.6 1943.0,1189.6 1953.5,1205.9 1964.0,1216.5 1974.5,1227.6 1985.0,1242.1 1995.5,1252.3 2006.0,1255.8 2016.5,1262.6 2027.0,1259.7 2037.5,1244.9 2048.0,1230.5 2058.5,1211.7 2069.0,1197.4 2079.5,1181.7 2090.0,1163.0 2100.5,1146.1 2111.0,1129.7 2121.5,1114.2 2132.0,1092.4 2142.5,1075.2 2153.0,1059.7 2163.5,1045.8 2174.0,1027.5 2184.5,1011.8 2195.0,995.3 2205.5,974.1 2216.0,961.0 2226.5,956.6 2237.0,957.5 2247.5,951.5 2258.0,957.5 2268.5,968.3 2279.0,968.7 2289.5,967.6 2300.0,956.3 2310.5,948.3 2321.0,930.5 2331.5,916.9 2342.0,908.9 2352.5,909.4 2363.0,898.2 2373.5,895.7 2384.0,904.1 2394.5,911.2 2405.0,924.7 2415.5,946.0 2426.0,969.4 2436.5,991.3 2447.0,1014.5 2457.5,1036.1 2468.0,1059.2 2478.5,1081.5 2489.0,1094.6 2499.5,1107.3 2510.0,1123.9 2520.5,1126.3 2531.0,1133.5 2541.5,1133.7 2552.0,1136.8 2562.5,1144.5 2573.0,1142.2 2583.5,1131.3 2594.0,1126.7 2604.5,1121.6 2615.0,1123.2 2625.5,1124.9 2636.0,1131.1 2646.5,1136.3 2657.0,1135.7 2667.5,1123.0 2678.0,1113.5 2688.5,1114.6 2699.0,1111.8 2709.5,1113.5 2720.0,1109.8 2730.5,1110.3 2741.0,1109.9 2751.5,1114.4 2762.0,1125.1 2772.5,1137.4 2783.0,1154.0 2793.5,1158.1 2804.0,1166.9 2814.5,1169.4 2825.0,1167.9 2835.5,1170.8 2846.0,1166.6 2856.5,1161.0 2867.0,1147.2 2877.5,1140.5 2888.0,1140.2 2898.5,1143.5 2909.0,1142.6 2919.5,1143.3 2930.0,1145.2 2940.5,1135.3 2951.0,1124.1 2961.5,1113.8 2972.0,1107.1 2982.5,1095.3 2993.0,1083.6 3003.5,1069.1 3014.0,1059.4 3024.5,1052.7 3035.0,1043.1 3045.5,1046.3 3056.0,1044.9 3066.5,1038.7 3077.0,1026.5 3087.5,1009.9 3098.0,990.0 3108.5,974.5 3119.0,959.9 3129.5,952.0 3140.0,949.5 3150.5,943.5 3161.0,944.8"/>
<polyline fill="none" stroke="#151515" stroke-width="1.5" stroke-linejoin="round" points="105.5,1072.9 116.0,1030.6 126.5,985.4 137.0,974.2 147.5,970.7 158.0,983.2 168.5,988.6 179.0,1018.5 189.5,1021.6 200.0,1018.0 210.5,1018.0 221.0,1033.4 231.5,1042.1 242.0,1044.5 252.5,1037.1 263.0,1018.6 273.5,1034.8 284.0,1020.0 294.5,1008.7 305.0,1032.3 315.5,1066.6 326.0,1068.2 336.5,1088.2 347.0,1104.1 357.5,1124.1 368.0,1134.5 378.5,1137.0 389.0,1142.3 399.5,1172.7 410.0,1158.5 420.5,1145.5 431.0,1131.4 441.5,1110.7 452.0,1078.6 462.5,1085.6 473.0,1086.7 483.5,1086.1 494.0,1067.8 504.5,1044.4 515.0,994.8 525.5,940.1 536.0,895.5 546.5,876.2 557.0,864.1 567.5,863.0 578.0,860.5 588.5,855.4 599.0,848.9 609.5,806.4 620.0,770.2 630.5,769.6 641.0,775.1 651.5,802.0 662.0,848.7 672.5,889.9 683.0,907.0 693.5,933.8 704.0,920.0 714.5,915.2 725.0,909.8 735.5,892.3 746.0,858.3 756.5,858.9 767.0,830.4 777.5,792.3 788.0,747.4 798.5,675.5 809.0,606.4 819.5,511.8 830.0,440.0 840.5,377.0 851.0,381.3 861.5,365.2 872.0,438.1 882.5,515.8 893.0,595.3 903.5,639.7 914.0,665.1 924.5,647.4 935.0,609.0 945.5,582.4 956.0,556.8 966.5,535.9 977.0,528.6 987.5,535.3 998.0,543.3 1008.5,571.3 1019.0,622.7 1029.5,654.2 1040.0,681.8 1050.5,718.5 1061.0,746.3 1071.5,757.7 1082.0,780.6 1092.5,796.0 1103.0,792.8 1113.5,748.0 1124.0,716.2 1134.5,693.5 1145.0,677.7 1155.5,679.7 1166.0,744.1 1176.5,803.6 1187.0,868.5 1197.5,926.0 1208.0,964.7 1218.5,948.6 1229.0,936.4 1239.5,935.5 1250.0,943.3 1260.5,944.7 1271.0,958.0 1281.5,959.9 1292.0,939.6 1302.5,912.9 1313.0,914.9 1323.5,916.4 1334.0,925.9 1344.5,916.1 1355.0,926.7 1365.5,916.8 1376.0,899.4 1386.5,880.8 1397.0,887.2 1407.5,864.1 1418.0,831.1 1428.5,816.4 1439.0,802.5 1449.5,778.9 1460.0,751.5 1470.5,747.4 1481.0,735.4 1491.5,717.5 1502.0,705.2 1512.5,728.8 1523.0,749.1 1533.5,784.8 1544.0,847.2 1554.5,902.8 1565.0,944.4 1575.5,981.2 1586.0,1030.6 1596.5,1050.9 1607.0,1066.5 1617.5,1072.9 1628.0,1075.9 1638.5,1073.7 1649.0,1080.5 1659.5,1097.5 1670.0,1130.4 1680.5,1154.9 1691.0,1170.7 1701.5,1206.5 1712.0,1261.0 1722.5,1298.1 1733.0,1346.6 1743.5,1389.3 1754.0,1391.1 1764.5,1387.8 1775.0,1364.7 1785.5,1344.1 1796.0,1308.3 1806.5,1300.0 1817.0,1266.5 1827.5,1262.6 1838.0,1225.7 1848.5,1192.4 1859.0,1163.6 1869.5,1147.9 1880.0,1127.9 1890.5,1142.2 1901.0,1171.7 1911.5,1173.4 1922.0,1187.6 1932.5,1219.4 1943.0,1236.9 1953.5,1240.0 1964.0,1259.7 1974.5,1267.6 1985.0,1264.7 1995.5,1267.7 2006.0,1271.6 2016.5,1265.6 2027.0,1251.7 2037.5,1225.1 2048.0,1193.3 2058.5,1151.8 2069.0,1129.3 2079.5,1111.8 2090.0,1100.9 2100.5,1098.9 2111.0,1107.7 2121.5,1099.2 2132.0,1072.9 2142.5,1049.5 2153.0,1020.4 2163.5,984.0 2174.0,955.8 2184.5,950.7 2195.0,941.1 2205.5,927.8 2216.0,938.1 2226.5,957.4 2237.0,964.3 2247.5,961.9 2258.0,987.3 2268.5,998.6 2279.0,980.1 2289.5,971.0 2300.0,950.7 2310.5,909.4 2321.0,862.4 2331.5,853.8 2342.0,846.7 2352.5,868.0 2363.0,887.1 2373.5,929.0 2384.0,954.5 2394.5,975.6 2405.0,981.4 2415.5,1004.8 2426.0,1009.8 2436.5,1028.1 2447.0,1053.3 2457.5,1090.8 2468.0,1113.5 2478.5,1153.2 2489.0,1161.1 2499.5,1161.2 2510.0,1157.0 2520.5,1139.2 2531.0,1113.9 2541.5,1106.3 2552.0,1112.5 2562.5,1131.9 2573.0,1145.2 2583.5,1148.6 2594.0,1147.2 2604.5,1130.7 2615.0,1114.4 2625.5,1104.6 2636.0,1113.5 2646.5,1125.4 2657.0,1140.6 2667.5,1131.5 2678.0,1122.4 2688.5,1115.7 2699.0,1098.1 2709.5,1086.4 2720.0,1088.0 2730.5,1098.1 2741.0,1104.1 2751.5,1130.7 2762.0,1163.7 2772.5,1186.9 2783.0,1210.0 2793.5,1212.1 2804.0,1203.0 2814.5,1175.2 2825.0,1148.9 2835.5,1131.5 2846.0,1121.1 2856.5,1119.0 2867.0,1119.2 2877.5,1132.0 2888.0,1148.8 2898.5,1166.0 2909.0,1166.1 2919.5,1167.4 2930.0,1158.4 2940.5,1121.8 2951.0,1082.2 2961.5,1061.4 2972.0,1046.7 2982.5,1032.3 2993.0,1045.5 3003.5,1056.0 3014.0,1057.4 3024.5,1058.7 3035.0,1054.0 3045.5,1047.2 3056.0,1033.8 3066.5,1020.0 3077.0,994.3 3087.5,965.8 3098.0,932.9 3108.5,915.1 3119.0,899.8 3129.5,909.8 3140.0,933.2 3150.5,954.1 3161.0,974.4"/>
<path d="M836.2 189.0H848.7M840.7 185.8V192.2" stroke="#111" stroke-width="1.5"/>
<text x="849.0" y="183.4" font-size="21.3" font-weight="bold" fill="#d4524b" textLength="77.5" lengthAdjust="spacingAndGlyphs">3370.00</text>
<path d="M395.2 1229.0H407.7M399.7 1225.8V1232.2" stroke="#111" stroke-width="1.5"/>
<text x="408.2" y="1249.8" font-size="21.3" font-weight="bold" fill="#5c9f59" textLength="77.5" lengthAdjust="spacingAndGlyphs">2474.00</text>
<path d="M1739.9 1460.0H1752.4M1744.4 1456.8V1463.2" stroke="#111" stroke-width="1.5"/>
<text x="1753.5" y="1479.8" font-size="21.3" font-weight="bold" fill="#5c9f59" textLength="77.5" lengthAdjust="spacingAndGlyphs">2276.00</text>
<path d="M2317.5 717.4H2330.0M2322.0 714.2V720.6" stroke="#111" stroke-width="1.5"/>
<text x="2329.6" y="711.9" font-size="21.3" font-weight="bold" fill="#d4524b" textLength="77.5" lengthAdjust="spacingAndGlyphs">2915.00</text>
<text x="13.6" y="42.2" font-size="21.3" fill="#3a4152" text-anchor="start" textLength="78.5" lengthAdjust="spacingAndGlyphs">3501.28</text>
<text x="3218.2" y="43.0" font-size="21.3" fill="#3a4152" text-anchor="start" textLength="78.9" lengthAdjust="spacingAndGlyphs">3501.28</text>
<text x="13.6" y="135.1" font-size="21.3" fill="#3a4152" text-anchor="start" textLength="78.5" lengthAdjust="spacingAndGlyphs">3419.34</text>
<text x="3218.2" y="135.1" font-size="21.3" fill="#3a4152" text-anchor="start" textLength="78.9" lengthAdjust="spacingAndGlyphs">3419.34</text>
<text x="13.6" y="230.3" font-size="21.3" fill="#3a4152" text-anchor="start" textLength="78.5" lengthAdjust="spacingAndGlyphs">3337.40</text>
<text x="3218.2" y="230.3" font-size="21.3" fill="#3a4152" text-anchor="start" textLength="78.9" lengthAdjust="spacingAndGlyphs">3337.40</text>
<text x="13.6" y="325.6" font-size="21.3" fill="#3a4152" text-anchor="start" textLength="78.5" lengthAdjust="spacingAndGlyphs">3255.46</text>
<text x="3218.2" y="325.6" font-size="21.3" fill="#3a4152" text-anchor="start" textLength="78.9" lengthAdjust="spacingAndGlyphs">3255.46</text>
<text x="13.6" y="420.8" font-size="21.3" fill="#3a4152" text-anchor="start" textLength="78.5" lengthAdjust="spacingAndGlyphs">3173.52</text>
<text x="3218.2" y="420.8" font-size="21.3" fill="#3a4152" text-anchor="start" textLength="78.9" lengthAdjust="spacingAndGlyphs">3173.52</text>
<text x="13.6" y="516.1" font-size="21.3" fill="#3a4152" text-anchor="start" textLength="78.5" lengthAdjust="spacingAndGlyphs">3091.58</text>
<text x="3218.2" y="516.1" font-size="21.3" fill="#3a4152" text-anchor="start" textLength="78.9" lengthAdjust="spacingAndGlyphs">3091.58</text>
<text x="13.6" y="611.3" font-size="21.3" fill="#3a4152" text-anchor="start" textLength="78.5" lengthAdjust="spacingAndGlyphs">3009.64</text>
<text x="3218.2" y="611.3" font-size="21.3" fill="#3a4152" text-anchor="start" textLength="78.9" lengthAdjust="spacingAndGlyphs">3009.64</text>
<text x="13.6" y="706.6" font-size="21.3" fill="#3a4152" text-anchor="start" textLength="78.5" lengthAdjust="spacingAndGlyphs">2927.70</text>
<text x="3218.2" y="706.6" font-size="21.3" fill="#3a4152" text-anchor="start" textLength="78.9" lengthAdjust="spacingAndGlyphs">2927.70</text>
<text x="13.6" y="801.8" font-size="21.3" fill="#3a4152" text-anchor="start" textLength="78.5" lengthAdjust="spacingAndGlyphs">2845.76</text>
<text x="3218.2" y="801.8" font-size="21.3" fill="#3a4152" text-anchor="start" textLength="78.9" lengthAdjust="spacingAndGlyphs">2845.76</text>
<text x="13.6" y="897.1" font-size="21.3" fill="#3a4152" text-anchor="start" textLength="78.5" lengthAdjust="spacingAndGlyphs">2763.81</text>
<text x="3218.2" y="897.1" font-size="21.3" fill="#3a4152" text-anchor="start" textLength="78.9" lengthAdjust="spacingAndGlyphs">2763.81</text>
<text x="13.6" y="992.3" font-size="21.3" fill="#3a4152" text-anchor="start" textLength="78.5" lengthAdjust="spacingAndGlyphs">2681.87</text>
<text x="3218.2" y="992.3" font-size="21.3" fill="#3a4152" text-anchor="start" textLength="78.9" lengthAdjust="spacingAndGlyphs">2681.87</text>
<text x="13.6" y="1087.6" font-size="21.3" fill="#3a4152" text-anchor="start" textLength="78.5" lengthAdjust="spacingAndGlyphs">2599.93</text>
<text x="3218.2" y="1087.6" font-size="21.3" fill="#3a4152" text-anchor="start" textLength="78.9" lengthAdjust="spacingAndGlyphs">2599.93</text>
<text x="13.6" y="1182.8" font-size="21.3" fill="#3a4152" text-anchor="start" textLength="78.5" lengthAdjust="spacingAndGlyphs">2517.99</text>
<text x="3218.2" y="1182.8" font-size="21.3" fill="#3a4152" text-anchor="start" textLength="78.9" lengthAdjust="spacingAndGlyphs">2517.99</text>
<text x="13.6" y="1278.1" font-size="21.3" fill="#3a4152" text-anchor="start" textLength="78.5" lengthAdjust="spacingAndGlyphs">2436.05</text>
<text x="3218.2" y="1278.1" font-size="21.3" fill="#3a4152" text-anchor="start" textLength="78.9" lengthAdjust="spacingAndGlyphs">2436.05</text>
<text x="13.6" y="1373.3" font-size="21.3" fill="#3a4152" text-anchor="start" textLength="78.5" lengthAdjust="spacingAndGlyphs">2354.11</text>
<text x="3218.2" y="1373.3" font-size="21.3" fill="#3a4152" text-anchor="start" textLength="78.9" lengthAdjust="spacingAndGlyphs">2354.11</text>
<text x="13.6" y="1468.6" font-size="21.3" fill="#3a4152" text-anchor="start" textLength="78.5" lengthAdjust="spacingAndGlyphs">2272.17</text>
<text x="3218.2" y="1468.6" font-size="21.3" fill="#3a4152" text-anchor="start" textLength="78.9" lengthAdjust="spacingAndGlyphs">2272.17</text>
<text x="28.0" y="1603.0" font-size="21.3" fill="#3a4152" text-anchor="start" textLength="62.8" lengthAdjust="spacingAndGlyphs">128.37</text>
<text x="3219.6" y="1603.0" font-size="21.3" fill="#3a4152" text-anchor="start" textLength="62.8" lengthAdjust="spacingAndGlyphs">128.37</text>
<text x="39.3" y="1644.3" font-size="21.3" fill="#3a4152" text-anchor="start" textLength="51.5" lengthAdjust="spacingAndGlyphs">78.61</text>
<text x="3219.6" y="1644.3" font-size="21.3" fill="#3a4152" text-anchor="start" textLength="51.5" lengthAdjust="spacingAndGlyphs">78.61</text>
<text x="39.3" y="1685.5" font-size="21.3" fill="#3a4152" text-anchor="start" textLength="51.5" lengthAdjust="spacingAndGlyphs">28.85</text>
<text x="3219.6" y="1685.5" font-size="21.3" fill="#3a4152" text-anchor="start" textLength="51.5" lengthAdjust="spacingAndGlyphs">28.85</text>
<text x="31.5" y="1726.8" font-size="21.3" fill="#3a4152" text-anchor="start" textLength="59.3" lengthAdjust="spacingAndGlyphs">-20.91</text>
<text x="3219.6" y="1726.8" font-size="21.3" fill="#3a4152" text-anchor="start" textLength="59.3" lengthAdjust="spacingAndGlyphs">-20.91</text>
<text x="31.5" y="1768.0" font-size="21.3" fill="#3a4152" text-anchor="start" textLength="59.3" lengthAdjust="spacingAndGlyphs">-70.67</text>
<text x="3219.6" y="1768.0" font-size="21.3" fill="#3a4152" text-anchor="start" textLength="59.3" lengthAdjust="spacingAndGlyphs">-70.67</text>
<text x="19.2" y="1809.3" font-size="21.3" fill="#3a4152" text-anchor="start" textLength="71.6" lengthAdjust="spacingAndGlyphs">-120.42</text>
<text x="3219.6" y="1809.3" font-size="21.3" fill="#3a4152" text-anchor="start" textLength="71.6" lengthAdjust="spacingAndGlyphs">-120.42</text>
<rect x="3213.8" y="246.6" width="120" height="29.4" fill="#fff" stroke="#e9e9e9" stroke-width="1.3"/>
<text x="3217.5" y="269.0" font-size="21.3" fill="#f59a33" text-anchor="start" textLength="77.0" lengthAdjust="spacingAndGlyphs">3318.94</text>
<rect x="3213.8" y="1003.2" width="120" height="29.5" fill="#fff" stroke="#f0923a" stroke-width="1.8"/>
<text x="3217.8" y="1025.0" font-size="21.3" fill="#f59a33" text-anchor="start" textLength="77.0" lengthAdjust="spacingAndGlyphs">2668.00</text>
<path d="M3318 1003 L3324 990 L3324 1003Z" fill="#f0923a"/>
<g><path d="M105.5 1705.3V1688.9" stroke="#d2524a" stroke-width="2"/><path d="M116.0 1705.3V1671.1" stroke="#d2524a" stroke-width="2"/><path d="M126.5 1705.3V1655.9" stroke="#d2524a" stroke-width="2"/><path d="M137.0 1705.3V1657.1" stroke="#d2524a" stroke-width="2"/><path d="M147.5 1705.3V1655.4" stroke="#d2524a" stroke-width="2"/><path d="M158.0 1705.3V1658.9" stroke="#d2524a" stroke-width="2"/><path d="M168.5 1705.3V1655.4" stroke="#d2524a" stroke-width="2"/><path d="M179.0 1705.3V1660.8" stroke="#d2524a" stroke-width="2"/><path d="M189.5 1705.3V1662.5" stroke="#d2524a" stroke-width="2"/><path d="M200.0 1705.3V1660.8" stroke="#d2524a" stroke-width="2"/><path d="M210.5 1705.3V1664.0" stroke="#d2524a" stroke-width="2"/><path d="M221.0 1705.3V1667.7" stroke="#d2524a" stroke-width="2"/><path d="M231.5 1705.3V1675.0" stroke="#d2524a" stroke-width="2"/><path d="M242.0 1705.3V1674.8" stroke="#d2524a" stroke-width="2"/><path d="M252.5 1705.3V1666.2" stroke="#d2524a" stroke-width="2"/><path d="M263.0 1705.3V1660.8" stroke="#d2524a" stroke-width="2"/><path d="M273.5 1705.3V1674.8" stroke="#d2524a" stroke-width="2"/><path d="M284.0 1705.3V1676.2" stroke="#d2524a" stroke-width="2"/><path d="M294.5 1705.3V1673.0" stroke="#d2524a" stroke-width="2"/><path d="M305.0 1705.3V1677.9" stroke="#d2524a" stroke-width="2"/><path d="M315.5 1705.3V1687.0" stroke="#d2524a" stroke-width="2"/><path d="M326.0 1705.3V1694.3" stroke="#d2524a" stroke-width="2"/><path d="M336.5 1705.3V1697.5" stroke="#d2524a" stroke-width="2"/><path d="M347.0 1705.3V1694.3" stroke="#d2524a" stroke-width="2"/><path d="M357.5 1705.3V1699.2" stroke="#d2524a" stroke-width="2"/><path d="M368.0 1705.3V1703.6" stroke="#d2524a" stroke-width="2"/><path d="M378.5 1705.3V1702.9" stroke="#d2524a" stroke-width="2"/><path d="M389.0 1705.3V1701.2" stroke="#d2524a" stroke-width="2"/><path d="M399.5 1705.3V1708.5" stroke="#5c9f59" stroke-width="2"/><path d="M410.0 1705.3V1697.5" stroke="#d2524a" stroke-width="2"/><path d="M420.5 1705.3V1692.1" stroke="#d2524a" stroke-width="2"/><path d="M431.0 1705.3V1687.2" stroke="#d2524a" stroke-width="2"/><path d="M441.5 1705.3V1680.4" stroke="#d2524a" stroke-width="2"/><path d="M452.0 1705.3V1678.4" stroke="#d2524a" stroke-width="2"/><path d="M462.5 1705.3V1683.3" stroke="#d2524a" stroke-width="2"/><path d="M473.0 1705.3V1685.3" stroke="#d2524a" stroke-width="2"/><path d="M483.5 1705.3V1683.6" stroke="#d2524a" stroke-width="2"/><path d="M494.0 1705.3V1673.0" stroke="#d2524a" stroke-width="2"/><path d="M504.5 1705.3V1666.2" stroke="#d2524a" stroke-width="2"/><path d="M515.0 1705.3V1657.1" stroke="#d2524a" stroke-width="2"/><path d="M525.5 1705.3V1649.8" stroke="#d2524a" stroke-width="2"/><path d="M536.0 1705.3V1649.8" stroke="#d2524a" stroke-width="2"/><path d="M546.5 1705.3V1651.5" stroke="#d2524a" stroke-width="2"/><path d="M557.0 1705.3V1660.8" stroke="#d2524a" stroke-width="2"/><path d="M567.5 1705.3V1665.7" stroke="#d2524a" stroke-width="2"/><path d="M578.0 1705.3V1668.1" stroke="#d2524a" stroke-width="2"/><path d="M588.5 1705.3V1671.1" stroke="#d2524a" stroke-width="2"/><path d="M599.0 1705.3V1676.0" stroke="#d2524a" stroke-width="2"/><path d="M609.5 1705.3V1666.2" stroke="#d2524a" stroke-width="2"/><path d="M620.0 1705.3V1665.7" stroke="#d2524a" stroke-width="2"/><path d="M630.5 1705.3V1677.9" stroke="#d2524a" stroke-width="2"/><path d="M641.0 1705.3V1691.9" stroke="#d2524a" stroke-width="2"/><path d="M651.5 1705.3V1712.2" stroke="#5c9f59" stroke-width="2"/><path d="M662.0 1705.3V1719.5" stroke="#5c9f59" stroke-width="2"/><path d="M672.5 1705.3V1724.9" stroke="#5c9f59" stroke-width="2"/><path d="M683.0 1705.3V1726.8" stroke="#5c9f59" stroke-width="2"/><path d="M693.5 1705.3V1735.4" stroke="#5c9f59" stroke-width="2"/><path d="M704.0 1705.3V1731.7" stroke="#5c9f59" stroke-width="2"/><path d="M714.5 1705.3V1726.8" stroke="#5c9f59" stroke-width="2"/><path d="M725.0 1705.3V1723.2" stroke="#5c9f59" stroke-width="2"/><path d="M735.5 1705.3V1714.1" stroke="#5c9f59" stroke-width="2"/><path d="M746.0 1705.3V1708.5" stroke="#5c9f59" stroke-width="2"/><path d="M756.5 1705.3V1712.2" stroke="#5c9f59" stroke-width="2"/><path d="M767.0 1705.3V1698.7" stroke="#d2524a" stroke-width="2"/><path d="M777.5 1705.3V1688.9" stroke="#d2524a" stroke-width="2"/><path d="M788.0 1705.3V1673.0" stroke="#d2524a" stroke-width="2"/><path d="M798.5 1705.3V1654.0" stroke="#d2524a" stroke-width="2"/><path d="M809.0 1705.3V1654.0" stroke="#d2524a" stroke-width="2"/><path d="M819.5 1705.3V1631.0" stroke="#d2524a" stroke-width="2"/><path d="M830.0 1705.3V1626.1" stroke="#d2524a" stroke-width="2"/><path d="M840.5 1705.3V1624.1" stroke="#d2524a" stroke-width="2"/><path d="M851.0 1705.3V1646.6" stroke="#d2524a" stroke-width="2"/><path d="M861.5 1705.3V1664.0" stroke="#d2524a" stroke-width="2"/><path d="M872.0 1705.3V1694.3" stroke="#d2524a" stroke-width="2"/><path d="M882.5 1705.3V1722.7" stroke="#5c9f59" stroke-width="2"/><path d="M893.0 1705.3V1736.6" stroke="#5c9f59" stroke-width="2"/><path d="M903.5 1705.3V1748.9" stroke="#5c9f59" stroke-width="2"/><path d="M914.0 1705.3V1743.5" stroke="#5c9f59" stroke-width="2"/><path d="M924.5 1705.3V1737.1" stroke="#5c9f59" stroke-width="2"/><path d="M935.0 1705.3V1728.1" stroke="#5c9f59" stroke-width="2"/><path d="M945.5 1705.3V1726.4" stroke="#5c9f59" stroke-width="2"/><path d="M956.0 1705.3V1726.4" stroke="#5c9f59" stroke-width="2"/><path d="M966.5 1705.3V1719.5" stroke="#5c9f59" stroke-width="2"/><path d="M977.0 1705.3V1715.8" stroke="#5c9f59" stroke-width="2"/><path d="M987.5 1705.3V1719.5" stroke="#5c9f59" stroke-width="2"/><path d="M998.0 1705.3V1723.2" stroke="#5c9f59" stroke-width="2"/><path d="M1008.5 1705.3V1739.1" stroke="#5c9f59" stroke-width="2"/><path d="M1019.0 1705.3V1749.3" stroke="#5c9f59" stroke-width="2"/><path d="M1029.5 1705.3V1747.6" stroke="#5c9f59" stroke-width="2"/><path d="M1040.0 1705.3V1745.2" stroke="#5c9f59" stroke-width="2"/><path d="M1050.5 1705.3V1751.3" stroke="#5c9f59" stroke-width="2"/><path d="M1061.0 1705.3V1759.9" stroke="#5c9f59" stroke-width="2"/><path d="M1071.5 1705.3V1758.1" stroke="#5c9f59" stroke-width="2"/><path d="M1082.0 1705.3V1752.5" stroke="#5c9f59" stroke-width="2"/><path d="M1092.5 1705.3V1744.0" stroke="#5c9f59" stroke-width="2"/><path d="M1103.0 1705.3V1736.6" stroke="#5c9f59" stroke-width="2"/><path d="M1113.5 1705.3V1718.3" stroke="#5c9f59" stroke-width="2"/><path d="M1124.0 1705.3V1706.8" stroke="#5c9f59" stroke-width="2"/><path d="M1134.5 1705.3V1701.2" stroke="#d2524a" stroke-width="2"/><path d="M1145.0 1705.3V1699.2" stroke="#d2524a" stroke-width="2"/><rect x="1154.5" y="1703.3" width="2" height="2" fill="#b9b0a8"/><path d="M1166.0 1705.3V1726.4" stroke="#5c9f59" stroke-width="2"/><path d="M1176.5 1705.3V1737.8" stroke="#5c9f59" stroke-width="2"/><path d="M1187.0 1705.3V1748.4" stroke="#5c9f59" stroke-width="2"/><path d="M1197.5 1705.3V1749.3" stroke="#5c9f59" stroke-width="2"/><path d="M1208.0 1705.3V1744.0" stroke="#5c9f59" stroke-width="2"/><path d="M1218.5 1705.3V1731.7" stroke="#5c9f59" stroke-width="2"/><path d="M1229.0 1705.3V1723.2" stroke="#5c9f59" stroke-width="2"/><path d="M1239.5 1705.3V1724.9" stroke="#5c9f59" stroke-width="2"/><path d="M1250.0 1705.3V1728.1" stroke="#5c9f59" stroke-width="2"/><path d="M1260.5 1705.3V1720.7" stroke="#5c9f59" stroke-width="2"/><path d="M1271.0 1705.3V1714.1" stroke="#5c9f59" stroke-width="2"/><path d="M1281.5 1705.3V1702.9" stroke="#d2524a" stroke-width="2"/><path d="M1292.0 1705.3V1696.3" stroke="#d2524a" stroke-width="2"/><path d="M1302.5 1705.3V1688.9" stroke="#d2524a" stroke-width="2"/><path d="M1313.0 1705.3V1694.3" stroke="#d2524a" stroke-width="2"/><path d="M1323.5 1705.3V1694.3" stroke="#d2524a" stroke-width="2"/><path d="M1334.0 1705.3V1692.6" stroke="#d2524a" stroke-width="2"/><path d="M1344.5 1705.3V1683.6" stroke="#d2524a" stroke-width="2"/><path d="M1355.0 1705.3V1687.2" stroke="#d2524a" stroke-width="2"/><path d="M1365.5 1705.3V1687.2" stroke="#d2524a" stroke-width="2"/><path d="M1376.0 1705.3V1682.1" stroke="#d2524a" stroke-width="2"/><path d="M1386.5 1705.3V1678.4" stroke="#d2524a" stroke-width="2"/><path d="M1397.0 1705.3V1678.4" stroke="#d2524a" stroke-width="2"/><path d="M1407.5 1705.3V1675.0" stroke="#d2524a" stroke-width="2"/><path d="M1418.0 1705.3V1669.4" stroke="#d2524a" stroke-width="2"/><path d="M1428.5 1705.3V1668.1" stroke="#d2524a" stroke-width="2"/><path d="M1439.0 1705.3V1669.4" stroke="#d2524a" stroke-width="2"/><path d="M1449.5 1705.3V1669.4" stroke="#d2524a" stroke-width="2"/><path d="M1460.0 1705.3V1664.0" stroke="#d2524a" stroke-width="2"/><path d="M1470.5 1705.3V1669.4" stroke="#d2524a" stroke-width="2"/><path d="M1481.0 1705.3V1671.1" stroke="#d2524a" stroke-width="2"/><path d="M1491.5 1705.3V1671.1" stroke="#d2524a" stroke-width="2"/><path d="M1502.0 1705.3V1675.0" stroke="#d2524a" stroke-width="2"/><path d="M1512.5 1705.3V1688.9" stroke="#d2524a" stroke-width="2"/><path d="M1523.0 1705.3V1701.2" stroke="#d2524a" stroke-width="2"/><path d="M1533.5 1705.3V1715.8" stroke="#5c9f59" stroke-width="2"/><path d="M1544.0 1705.3V1733.7" stroke="#5c9f59" stroke-width="2"/><path d="M1554.5 1705.3V1740.3" stroke="#5c9f59" stroke-width="2"/><path d="M1565.0 1705.3V1747.6" stroke="#5c9f59" stroke-width="2"/><path d="M1575.5 1705.3V1751.3" stroke="#5c9f59" stroke-width="2"/><path d="M1586.0 1705.3V1761.1" stroke="#5c9f59" stroke-width="2"/><path d="M1596.5 1705.3V1759.9" stroke="#5c9f59" stroke-width="2"/><path d="M1607.0 1705.3V1749.3" stroke="#5c9f59" stroke-width="2"/><path d="M1617.5 1705.3V1742.0" stroke="#5c9f59" stroke-width="2"/><path d="M1628.0 1705.3V1737.1" stroke="#5c9f59" stroke-width="2"/><path d="M1638.5 1705.3V1737.1" stroke="#5c9f59" stroke-width="2"/><path d="M1649.0 1705.3V1735.4" stroke="#5c9f59" stroke-width="2"/><path d="M1659.5 1705.3V1731.7" stroke="#5c9f59" stroke-width="2"/><path d="M1670.0 1705.3V1733.7" stroke="#5c9f59" stroke-width="2"/><path d="M1680.5 1705.3V1730.5" stroke="#5c9f59" stroke-width="2"/><path d="M1691.0 1705.3V1728.1" stroke="#5c9f59" stroke-width="2"/><path d="M1701.5 1705.3V1735.4" stroke="#5c9f59" stroke-width="2"/><path d="M1712.0 1705.3V1745.9" stroke="#5c9f59" stroke-width="2"/><path d="M1722.5 1705.3V1745.9" stroke="#5c9f59" stroke-width="2"/><path d="M1733.0 1705.3V1745.9" stroke="#5c9f59" stroke-width="2"/><path d="M1743.5 1705.3V1744.0" stroke="#5c9f59" stroke-width="2"/><path d="M1754.0 1705.3V1729.8" stroke="#5c9f59" stroke-width="2"/><path d="M1764.5 1705.3V1723.2" stroke="#5c9f59" stroke-width="2"/><path d="M1775.0 1705.3V1706.8" stroke="#5c9f59" stroke-width="2"/><path d="M1785.5 1705.3V1696.3" stroke="#d2524a" stroke-width="2"/><path d="M1796.0 1705.3V1685.3" stroke="#d2524a" stroke-width="2"/><path d="M1806.5 1705.3V1680.4" stroke="#d2524a" stroke-width="2"/><path d="M1817.0 1705.3V1671.1" stroke="#d2524a" stroke-width="2"/><path d="M1827.5 1705.3V1669.4" stroke="#d2524a" stroke-width="2"/><path d="M1838.0 1705.3V1655.9" stroke="#d2524a" stroke-width="2"/><path d="M1848.5 1705.3V1644.9" stroke="#d2524a" stroke-width="2"/><path d="M1859.0 1705.3V1646.6" stroke="#d2524a" stroke-width="2"/><path d="M1869.5 1705.3V1648.6" stroke="#d2524a" stroke-width="2"/><path d="M1880.0 1705.3V1655.4" stroke="#d2524a" stroke-width="2"/><path d="M1890.5 1705.3V1662.5" stroke="#d2524a" stroke-width="2"/><path d="M1901.0 1705.3V1673.0" stroke="#d2524a" stroke-width="2"/><path d="M1911.5 1705.3V1673.0" stroke="#d2524a" stroke-width="2"/><path d="M1922.0 1705.3V1682.1" stroke="#d2524a" stroke-width="2"/><path d="M1932.5 1705.3V1696.3" stroke="#d2524a" stroke-width="2"/><path d="M1943.0 1705.3V1701.2" stroke="#d2524a" stroke-width="2"/><path d="M1953.5 1705.3V1702.9" stroke="#d2524a" stroke-width="2"/><path d="M1964.0 1705.3V1702.9" stroke="#d2524a" stroke-width="2"/><path d="M1974.5 1705.3V1703.4" stroke="#d2524a" stroke-width="2"/><path d="M1985.0 1705.3V1706.8" stroke="#5c9f59" stroke-width="2"/><path d="M1995.5 1705.3V1708.5" stroke="#5c9f59" stroke-width="2"/><path d="M2006.0 1705.3V1706.8" stroke="#5c9f59" stroke-width="2"/><path d="M2016.5 1705.3V1701.2" stroke="#d2524a" stroke-width="2"/><path d="M2027.0 1705.3V1692.6" stroke="#d2524a" stroke-width="2"/><path d="M2037.5 1705.3V1687.2" stroke="#d2524a" stroke-width="2"/><path d="M2048.0 1705.3V1682.1" stroke="#d2524a" stroke-width="2"/><path d="M2058.5 1705.3V1671.1" stroke="#d2524a" stroke-width="2"/><path d="M2069.0 1705.3V1671.1" stroke="#d2524a" stroke-width="2"/><path d="M2079.5 1705.3V1671.1" stroke="#d2524a" stroke-width="2"/><path d="M2090.0 1705.3V1676.7" stroke="#d2524a" stroke-width="2"/><path d="M2100.5 1705.3V1679.9" stroke="#d2524a" stroke-width="2"/><path d="M2111.0 1705.3V1682.8" stroke="#d2524a" stroke-width="2"/><path d="M2121.5 1705.3V1680.4" stroke="#d2524a" stroke-width="2"/><path d="M2132.0 1705.3V1674.3" stroke="#d2524a" stroke-width="2"/><path d="M2142.5 1705.3V1673.0" stroke="#d2524a" stroke-width="2"/><path d="M2153.0 1705.3V1673.0" stroke="#d2524a" stroke-width="2"/><path d="M2163.5 1705.3V1669.4" stroke="#d2524a" stroke-width="2"/><path d="M2174.0 1705.3V1673.0" stroke="#d2524a" stroke-width="2"/><path d="M2184.5 1705.3V1675.0" stroke="#d2524a" stroke-width="2"/><path d="M2195.0 1705.3V1679.9" stroke="#d2524a" stroke-width="2"/><path d="M2205.5 1705.3V1682.1" stroke="#d2524a" stroke-width="2"/><path d="M2216.0 1705.3V1690.6" stroke="#d2524a" stroke-width="2"/><path d="M2226.5 1705.3V1702.9" stroke="#d2524a" stroke-width="2"/><path d="M2237.0 1705.3V1706.5" stroke="#5c9f59" stroke-width="2"/><path d="M2247.5 1705.3V1706.5" stroke="#5c9f59" stroke-width="2"/><path d="M2258.0 1705.3V1715.8" stroke="#5c9f59" stroke-width="2"/><path d="M2268.5 1705.3V1721.5" stroke="#5c9f59" stroke-width="2"/><path d="M2279.0 1705.3V1715.8" stroke="#5c9f59" stroke-width="2"/><path d="M2289.5 1705.3V1712.2" stroke="#5c9f59" stroke-width="2"/><path d="M2300.0 1705.3V1701.2" stroke="#d2524a" stroke-width="2"/><path d="M2310.5 1705.3V1694.3" stroke="#d2524a" stroke-width="2"/><path d="M2321.0 1705.3V1688.9" stroke="#d2524a" stroke-width="2"/><path d="M2331.5 1705.3V1694.3" stroke="#d2524a" stroke-width="2"/><path d="M2342.0 1705.3V1701.2" stroke="#d2524a" stroke-width="2"/><path d="M2352.5 1705.3V1710.9" stroke="#5c9f59" stroke-width="2"/><path d="M2363.0 1705.3V1714.1" stroke="#5c9f59" stroke-width="2"/><path d="M2373.5 1705.3V1724.9" stroke="#5c9f59" stroke-width="2"/><path d="M2384.0 1705.3V1731.7" stroke="#5c9f59" stroke-width="2"/><path d="M2394.5 1705.3V1733.7" stroke="#5c9f59" stroke-width="2"/><path d="M2405.0 1705.3V1731.7" stroke="#5c9f59" stroke-width="2"/><path d="M2415.5 1705.3V1737.1" stroke="#5c9f59" stroke-width="2"/><path d="M2426.0 1705.3V1737.1" stroke="#5c9f59" stroke-width="2"/><path d="M2436.5 1705.3V1742.0" stroke="#5c9f59" stroke-width="2"/><path d="M2447.0 1705.3V1745.9" stroke="#5c9f59" stroke-width="2"/><path d="M2457.5 1705.3V1749.3" stroke="#5c9f59" stroke-width="2"/><path d="M2468.0 1705.3V1749.3" stroke="#5c9f59" stroke-width="2"/><path d="M2478.5 1705.3V1753.3" stroke="#5c9f59" stroke-width="2"/><path d="M2489.0 1705.3V1744.0" stroke="#5c9f59" stroke-width="2"/><path d="M2499.5 1705.3V1735.4" stroke="#5c9f59" stroke-width="2"/><path d="M2510.0 1705.3V1729.8" stroke="#5c9f59" stroke-width="2"/><path d="M2520.5 1705.3V1717.6" stroke="#5c9f59" stroke-width="2"/><path d="M2531.0 1705.3V1712.2" stroke="#5c9f59" stroke-width="2"/><path d="M2541.5 1705.3V1706.8" stroke="#5c9f59" stroke-width="2"/><path d="M2552.0 1705.3V1708.5" stroke="#5c9f59" stroke-width="2"/><path d="M2562.5 1705.3V1715.8" stroke="#5c9f59" stroke-width="2"/><path d="M2573.0 1705.3V1710.9" stroke="#5c9f59" stroke-width="2"/><rect x="2582.5" y="1703.3" width="2" height="2" fill="#b9b0a8"/><path d="M2594.0 1705.3V1697.5" stroke="#d2524a" stroke-width="2"/><path d="M2604.5 1705.3V1692.1" stroke="#d2524a" stroke-width="2"/><path d="M2615.0 1705.3V1695.8" stroke="#d2524a" stroke-width="2"/><path d="M2625.5 1705.3V1692.1" stroke="#d2524a" stroke-width="2"/><path d="M2636.0 1705.3V1697.5" stroke="#d2524a" stroke-width="2"/><path d="M2646.5 1705.3V1699.2" stroke="#d2524a" stroke-width="2"/><path d="M2657.0 1705.3V1699.2" stroke="#d2524a" stroke-width="2"/><path d="M2667.5 1705.3V1695.8" stroke="#d2524a" stroke-width="2"/><path d="M2678.0 1705.3V1688.4" stroke="#d2524a" stroke-width="2"/><path d="M2688.5 1705.3V1692.1" stroke="#d2524a" stroke-width="2"/><path d="M2699.0 1705.3V1688.4" stroke="#d2524a" stroke-width="2"/><path d="M2709.5 1705.3V1688.4" stroke="#d2524a" stroke-width="2"/><path d="M2720.0 1705.3V1692.1" stroke="#d2524a" stroke-width="2"/><path d="M2730.5 1705.3V1692.1" stroke="#d2524a" stroke-width="2"/><path d="M2741.0 1705.3V1699.2" stroke="#d2524a" stroke-width="2"/><path d="M2751.5 1705.3V1708.5" stroke="#5c9f59" stroke-width="2"/><path d="M2762.0 1705.3V1715.8" stroke="#5c9f59" stroke-width="2"/><path d="M2772.5 1705.3V1720.7" stroke="#5c9f59" stroke-width="2"/><path d="M2783.0 1705.3V1718.3" stroke="#5c9f59" stroke-width="2"/><path d="M2793.5 1705.3V1714.1" stroke="#5c9f59" stroke-width="2"/><path d="M2804.0 1705.3V1708.5" stroke="#5c9f59" stroke-width="2"/><path d="M2814.5 1705.3V1701.2" stroke="#d2524a" stroke-width="2"/><path d="M2825.0 1705.3V1694.3" stroke="#d2524a" stroke-width="2"/><path d="M2835.5 1705.3V1692.6" stroke="#d2524a" stroke-width="2"/><path d="M2846.0 1705.3V1690.6" stroke="#d2524a" stroke-width="2"/><path d="M2856.5 1705.3V1693.8" stroke="#d2524a" stroke-width="2"/><path d="M2867.0 1705.3V1692.1" stroke="#d2524a" stroke-width="2"/><path d="M2877.5 1705.3V1697.5" stroke="#d2524a" stroke-width="2"/><rect x="2887.0" y="1703.3" width="2" height="2" fill="#b9b0a8"/><path d="M2898.5 1705.3V1708.5" stroke="#5c9f59" stroke-width="2"/><rect x="2908.0" y="1703.3" width="2" height="2" fill="#b9b0a8"/><path d="M2919.5 1705.3V1699.2" stroke="#d2524a" stroke-width="2"/><path d="M2930.0 1705.3V1697.5" stroke="#d2524a" stroke-width="2"/><path d="M2940.5 1705.3V1687.2" stroke="#d2524a" stroke-width="2"/><path d="M2951.0 1705.3V1678.4" stroke="#d2524a" stroke-width="2"/><path d="M2961.5 1705.3V1678.4" stroke="#d2524a" stroke-width="2"/><path d="M2972.0 1705.3V1682.1" stroke="#d2524a" stroke-width="2"/><path d="M2982.5 1705.3V1683.6" stroke="#d2524a" stroke-width="2"/><path d="M2993.0 1705.3V1688.9" stroke="#d2524a" stroke-width="2"/><path d="M3003.5 1705.3V1692.6" stroke="#d2524a" stroke-width="2"/><path d="M3014.0 1705.3V1692.6" stroke="#d2524a" stroke-width="2"/><path d="M3024.5 1705.3V1695.8" stroke="#d2524a" stroke-width="2"/><path d="M3035.0 1705.3V1693.8" stroke="#d2524a" stroke-width="2"/><path d="M3045.5 1705.3V1697.5" stroke="#d2524a" stroke-width="2"/><path d="M3056.0 1705.3V1693.8" stroke="#d2524a" stroke-width="2"/><path d="M3066.5 1705.3V1692.1" stroke="#d2524a" stroke-width="2"/><path d="M3077.0 1705.3V1687.2" stroke="#d2524a" stroke-width="2"/><path d="M3087.5 1705.3V1681.6" stroke="#d2524a" stroke-width="2"/><path d="M3098.0 1705.3V1679.9" stroke="#d2524a" stroke-width="2"/><path d="M3108.5 1705.3V1679.9" stroke="#d2524a" stroke-width="2"/><path d="M3119.0 1705.3V1683.6" stroke="#d2524a" stroke-width="2"/><path d="M3129.5 1705.3V1693.8" stroke="#d2524a" stroke-width="2"/><path d="M3140.0 1705.3V1702.9" stroke="#d2524a" stroke-width="2"/><path d="M3150.5 1705.3V1710.9" stroke="#5c9f59" stroke-width="2"/><path d="M3161.0 1705.3V1715.8" stroke="#5c9f59" stroke-width="2"/></g>
<polyline fill="none" stroke="#1d1d9a" stroke-width="1.4" stroke-linejoin="round" points="105.5,1841.8 116.0,1837.8 126.5,1833.9 137.0,1829.8 147.5,1824.2 158.0,1818.6 168.5,1812.4 179.0,1806.3 189.5,1801.4 200.0,1796.5 210.5,1790.9 221.0,1787.5 231.5,1784.1 242.0,1780.6 252.5,1775.1 263.0,1769.6 273.5,1765.6 284.0,1761.6 294.5,1758.3 305.0,1755.0 315.5,1753.4 326.0,1751.8 336.5,1751.3 347.0,1750.8 357.5,1750.4 368.0,1750.1 378.5,1749.2 389.0,1748.4 399.5,1750.1 410.0,1748.4 420.5,1746.8 431.0,1745.2 441.5,1742.1 452.0,1739.1 462.5,1736.9 473.0,1734.6 483.5,1730.7 494.0,1726.8 504.5,1721.9 515.0,1717.0 525.5,1711.5 536.0,1706.0 546.5,1698.0 557.0,1692.8 567.5,1687.7 578.0,1683.4 588.5,1679.2 599.0,1674.9 609.5,1670.6 620.0,1665.2 630.5,1662.1 641.0,1660.8 651.5,1663.2 662.0,1665.2 672.5,1668.1 683.0,1671.2 693.5,1674.2 704.0,1676.7 714.5,1679.2 725.0,1682.8 735.5,1683.4 746.0,1684.0 756.5,1684.0 767.0,1684.0 777.5,1681.6 788.0,1677.5 798.5,1670.5 809.0,1665.6 819.5,1657.1 830.0,1648.0 840.5,1637.5 851.0,1629.0 861.5,1624.1 872.0,1624.1 882.5,1626.1 893.0,1629.5 903.5,1635.1 914.0,1640.7 924.5,1644.2 935.0,1647.4 945.5,1650.6 956.0,1652.3 966.5,1654.0 977.0,1655.9 987.5,1657.2 998.0,1658.9 1008.5,1663.3 1019.0,1668.6 1029.5,1674.3 1040.0,1679.1 1050.5,1684.8 1061.0,1691.4 1071.5,1697.9 1082.0,1704.3 1092.5,1709.8 1103.0,1714.2 1113.5,1717.1 1124.0,1717.1 1134.5,1716.6 1145.0,1715.1 1155.5,1715.9 1166.0,1718.3 1176.5,1722.4 1187.0,1726.8 1197.5,1731.7 1208.0,1737.1 1218.5,1741.0 1229.0,1744.0 1239.5,1746.9 1250.0,1750.1 1260.5,1752.5 1271.0,1753.7 1281.5,1752.5 1292.0,1751.3 1302.5,1749.3 1313.0,1747.6 1323.5,1746.9 1334.0,1746.4 1344.5,1744.1 1355.0,1741.5 1365.5,1739.1 1376.0,1736.6 1386.5,1733.9 1397.0,1731.2 1407.5,1727.2 1418.0,1723.1 1428.5,1719.5 1439.0,1715.8 1449.5,1710.9 1460.0,1706.0 1470.5,1701.8 1481.0,1697.5 1491.5,1693.8 1502.0,1690.2 1512.5,1687.2 1523.0,1687.2 1533.5,1687.3 1544.0,1691.5 1554.5,1696.3 1565.0,1701.2 1575.5,1706.1 1586.0,1712.2 1596.5,1719.6 1607.0,1726.9 1617.5,1732.2 1628.0,1736.1 1638.5,1740.3 1649.0,1744.0 1659.5,1747.6 1670.0,1751.3 1680.5,1755.0 1691.0,1758.2 1701.5,1761.1 1712.0,1765.6 1722.5,1770.9 1733.0,1776.3 1743.5,1780.7 1754.0,1783.6 1764.5,1785.5 1775.0,1786.8 1785.5,1786.0 1796.0,1784.3 1806.5,1780.6 1817.0,1776.3 1827.5,1771.2 1838.0,1765.9 1848.5,1759.0 1859.0,1751.7 1869.5,1743.9 1880.0,1737.1 1890.5,1732.2 1901.0,1728.8 1911.5,1724.9 1922.0,1722.0 1932.5,1721.5 1943.0,1721.5 1953.5,1720.7 1964.0,1721.0 1974.5,1721.3 1985.0,1721.8 1995.5,1722.5 2006.0,1723.2 2016.5,1722.0 2027.0,1720.0 2037.5,1718.3 2048.0,1714.1 2058.5,1710.9 2069.0,1707.3 2079.5,1703.6 2090.0,1700.4 2100.5,1698.0 2111.0,1695.1 2121.5,1692.1 2132.0,1687.7 2142.5,1682.9 2153.0,1679.9 2163.5,1675.5 2174.0,1671.1 2184.5,1668.1 2195.0,1665.7 2205.5,1662.8 2216.0,1661.3 2226.5,1661.3 2237.0,1661.3 2247.5,1661.3 2258.0,1663.7 2268.5,1666.2 2279.0,1666.9 2289.5,1668.1 2300.0,1667.7 2310.5,1665.7 2321.0,1663.7 2331.5,1662.8 2342.0,1662.8 2352.5,1662.8 2363.0,1664.5 2373.5,1667.7 2384.0,1670.6 2394.5,1674.3 2405.0,1677.4 2415.5,1681.6 2426.0,1685.3 2436.5,1690.1 2447.0,1694.5 2457.5,1699.9 2468.0,1705.4 2478.5,1710.3 2489.0,1715.9 2499.5,1720.0 2510.0,1723.2 2520.5,1725.6 2531.0,1726.8 2541.5,1727.3 2552.0,1727.3 2562.5,1729.8 2573.0,1731.2 2583.5,1731.3 2594.0,1729.3 2604.5,1728.1 2615.0,1726.9 2625.5,1725.6 2636.0,1724.4 2646.5,1723.8 2657.0,1723.2 2667.5,1721.6 2678.0,1720.0 2688.5,1717.9 2699.0,1715.8 2709.5,1714.6 2720.0,1713.4 2730.5,1712.8 2741.0,1712.2 2751.5,1713.4 2762.0,1715.8 2772.5,1718.3 2783.0,1719.5 2793.5,1720.7 2804.0,1720.7 2814.5,1720.0 2825.0,1718.3 2835.5,1716.6 2846.0,1714.6 2856.5,1713.4 2867.0,1712.2 2877.5,1711.7 2888.0,1712.2 2898.5,1712.7 2909.0,1712.7 2919.5,1711.7 2930.0,1711.0 2940.5,1707.8 2951.0,1704.8 2961.5,1701.9 2972.0,1699.4 2982.5,1697.0 2993.0,1695.0 3003.5,1693.8 3014.0,1692.6 3024.5,1692.1 3035.0,1690.7 3045.5,1690.2 3056.0,1688.9 3066.5,1687.2 3077.0,1685.3 3087.5,1681.6 3098.0,1679.1 3108.5,1675.9 3119.0,1673.0 3129.5,1673.0 3140.0,1673.0 3150.5,1673.1 3161.0,1675.5"/>
<polyline fill="none" stroke="#151515" stroke-width="1.5" stroke-linejoin="round" points="105.5,1833.6 116.0,1820.7 126.5,1809.2 137.0,1805.7 147.5,1799.3 158.0,1795.4 168.5,1787.5 179.0,1784.0 189.5,1780.0 200.0,1774.2 210.5,1770.2 221.0,1768.6 231.5,1768.9 242.0,1765.4 252.5,1755.6 263.0,1747.4 273.5,1750.3 284.0,1747.0 294.5,1742.1 305.0,1741.3 315.5,1744.2 326.0,1746.3 336.5,1747.4 347.0,1745.3 357.5,1747.4 368.0,1749.2 378.5,1748.0 389.0,1746.3 399.5,1751.7 410.0,1744.5 420.5,1740.2 431.0,1736.1 441.5,1729.7 452.0,1725.6 462.5,1725.9 473.0,1724.6 483.5,1719.8 494.0,1710.6 504.5,1702.3 515.0,1692.9 525.5,1683.8 536.0,1678.3 546.5,1671.1 557.0,1670.6 567.5,1667.9 578.0,1664.8 588.5,1662.0 599.0,1660.2 609.5,1651.1 620.0,1645.4 630.5,1648.4 641.0,1654.1 651.5,1666.7 662.0,1672.3 672.5,1677.9 683.0,1681.9 693.5,1689.3 704.0,1689.9 714.5,1689.9 725.0,1691.7 735.5,1687.8 746.0,1685.6 756.5,1687.5 767.0,1680.7 777.5,1673.4 788.0,1661.4 798.5,1644.9 809.0,1640.0 819.5,1619.9 830.0,1608.4 840.5,1596.9 851.0,1599.7 861.5,1603.5 872.0,1618.6 882.5,1634.8 893.0,1645.1 903.5,1656.9 914.0,1659.8 924.5,1660.1 935.0,1658.8 945.5,1661.1 956.0,1662.8 966.5,1661.1 977.0,1661.2 987.5,1664.2 998.0,1667.8 1008.5,1680.1 1019.0,1690.7 1029.5,1695.4 1040.0,1699.1 1050.5,1707.8 1061.0,1718.6 1071.5,1724.4 1082.0,1727.9 1092.5,1729.1 1103.0,1729.8 1113.5,1723.5 1124.0,1717.8 1134.5,1714.5 1145.0,1712.1 1155.5,1715.4 1166.0,1728.8 1176.5,1738.7 1187.0,1748.4 1197.5,1753.7 1208.0,1756.4 1218.5,1754.2 1229.0,1752.9 1239.5,1756.7 1250.0,1761.5 1260.5,1760.2 1271.0,1758.1 1281.5,1751.3 1292.0,1746.8 1302.5,1741.1 1313.0,1742.1 1323.5,1741.4 1334.0,1740.1 1344.5,1733.2 1355.0,1732.5 1365.5,1730.0 1376.0,1725.0 1386.5,1720.5 1397.0,1717.7 1407.5,1712.0 1418.0,1705.2 1428.5,1700.9 1439.0,1697.8 1449.5,1693.0 1460.0,1685.4 1470.5,1683.8 1481.0,1680.4 1491.5,1676.7 1502.0,1675.0 1512.5,1679.0 1523.0,1685.1 1533.5,1692.5 1544.0,1705.6 1554.5,1713.8 1565.0,1722.4 1575.5,1729.1 1586.0,1740.1 1596.5,1746.8 1607.0,1748.9 1617.5,1750.6 1628.0,1752.0 1638.5,1756.2 1649.0,1759.0 1659.5,1760.8 1670.0,1765.5 1680.5,1767.6 1691.0,1769.6 1701.5,1776.2 1712.0,1785.9 1722.5,1791.2 1733.0,1796.6 1743.5,1800.0 1754.0,1795.8 1764.5,1794.5 1775.0,1787.5 1785.5,1781.5 1796.0,1774.3 1806.5,1768.2 1817.0,1759.1 1827.5,1753.3 1838.0,1741.2 1848.5,1728.8 1859.0,1722.3 1869.5,1715.5 1880.0,1712.1 1890.5,1710.8 1901.0,1712.6 1911.5,1708.7 1922.0,1710.3 1932.5,1716.9 1943.0,1719.4 1953.5,1719.5 1964.0,1719.8 1974.5,1720.3 1985.0,1722.6 1995.5,1724.1 2006.0,1723.9 2016.5,1719.9 2027.0,1713.6 2037.5,1709.2 2048.0,1702.5 2058.5,1693.8 2069.0,1690.1 2079.5,1686.5 2090.0,1686.1 2100.5,1685.3 2111.0,1683.8 2121.5,1679.7 2132.0,1672.2 2142.5,1666.7 2153.0,1663.8 2163.5,1657.6 2174.0,1654.9 2184.5,1653.0 2195.0,1653.0 2205.5,1651.1 2216.0,1654.0 2226.5,1660.1 2237.0,1661.9 2247.5,1661.9 2258.0,1669.0 2268.5,1674.3 2279.0,1672.2 2289.5,1671.6 2300.0,1665.6 2310.5,1660.2 2321.0,1655.5 2331.5,1657.3 2342.0,1660.7 2352.5,1665.6 2363.0,1668.9 2373.5,1677.5 2384.0,1683.8 2394.5,1688.5 2405.0,1690.7 2415.5,1697.5 2426.0,1701.2 2436.5,1708.5 2447.0,1714.8 2457.5,1721.9 2468.0,1727.4 2478.5,1734.3 2489.0,1735.2 2499.5,1735.1 2510.0,1735.4 2520.5,1731.7 2531.0,1730.3 2541.5,1728.1 2552.0,1728.9 2562.5,1735.0 2573.0,1734.1 2583.5,1731.1 2594.0,1725.4 2604.5,1721.5 2615.0,1722.1 2625.5,1719.0 2636.0,1720.5 2646.5,1720.7 2657.0,1720.1 2667.5,1716.8 2678.0,1711.6 2688.5,1711.3 2699.0,1707.4 2709.5,1706.2 2720.0,1706.8 2730.5,1706.2 2741.0,1709.1 2751.5,1715.0 2762.0,1721.1 2772.5,1726.0 2783.0,1726.0 2793.5,1725.1 2804.0,1722.3 2814.5,1717.9 2825.0,1712.8 2835.5,1710.2 2846.0,1707.3 2856.5,1707.6 2867.0,1705.6 2877.5,1707.8 2888.0,1711.9 2898.5,1714.2 2909.0,1712.4 2919.5,1708.6 2930.0,1707.0 2940.5,1698.8 2951.0,1691.4 2961.5,1688.4 2972.0,1687.8 2982.5,1686.1 2993.0,1686.9 3003.5,1687.5 3014.0,1686.2 3024.5,1687.3 3035.0,1684.9 3045.5,1686.2 3056.0,1683.2 3066.5,1680.6 3077.0,1676.2 3087.5,1669.8 3098.0,1666.4 3108.5,1663.2 3119.0,1662.2 3129.5,1667.3 3140.0,1671.8 3150.5,1675.9 3161.0,1680.8"/>
<rect x="98" y="0" width="1450" height="27" fill="#fff"/>
<text x="101.6" y="22.3" font-size="20.7" fill="#1a1a1a" stroke="#1a1a1a" stroke-width="0.45" text-anchor="start" textLength="82.8" lengthAdjust="spacingAndGlyphs" style="font-family:'Liberation Sans','Noto Sans CJK SC',sans-serif">甲醇主连</text>
<text x="184.4" y="22.3" font-size="20.7" fill="#f5921e" stroke="#f5921e" stroke-width="0.37" text-anchor="start" textLength="82.8" lengthAdjust="spacingAndGlyphs" style="font-family:'Liberation Sans','Noto Sans CJK SC',sans-serif">【日线】</text>
<rect x="282.2" y="0.5" width="20.2" height="20.6" fill="#fff" stroke="#1c1c9a" stroke-width="2"/>
<polyline fill="none" stroke="#e03030" stroke-width="1.8" points="283.5,8.5 287.5,3.5 291.8,9.5 296,4 300,8 301.5,6.5"/>
<polyline fill="none" stroke="#2a2ac0" stroke-width="1.8" points="283.5,16 287.5,9.5 291.8,14.5 296,9.5 300,13.5 301.5,12"/>
<text x="308.3" y="21.6" font-size="20.6" fill="#1f1f1f" text-anchor="start" textLength="232.0" lengthAdjust="spacingAndGlyphs">MA(5,10,30,60,100,200)</text>
<text x="549.7" y="21.6" font-size="20.6" fill="#1f1f1f" text-anchor="start" textLength="129.7" lengthAdjust="spacingAndGlyphs">MA5:2693.60</text>
<text x="695.5" y="21.6" font-size="20.6" fill="#2a2aa8" text-anchor="start" textLength="142.0" lengthAdjust="spacingAndGlyphs">MA10:2719.10</text>
<text x="852.9" y="21.6" font-size="20.6" fill="#f02cf0" text-anchor="start" textLength="141.3" lengthAdjust="spacingAndGlyphs">MA30:2639.23</text>
<text x="1009.7" y="21.6" font-size="20.6" fill="#f5921e" text-anchor="start" textLength="141.9" lengthAdjust="spacingAndGlyphs">MA60:2597.28</text>
<text x="1167.7" y="21.6" font-size="20.6" fill="#8b909a" text-anchor="start" textLength="153.6" lengthAdjust="spacingAndGlyphs">MA100:2627.66</text>
<text x="1337.4" y="21.6" font-size="20.6" fill="#d9564e" text-anchor="start" textLength="154.2" lengthAdjust="spacingAndGlyphs">MA200:2635.78</text>
<rect x="99" y="1560" width="560" height="30" fill="#fff"/>
<text x="101.6" y="1583.1" font-size="21.4" fill="#1f1f1f" text-anchor="start" textLength="148.5" lengthAdjust="spacingAndGlyphs">MACD(26,12,9)</text>
<text x="259.3" y="1583.1" font-size="21.4" fill="#1f1f1f" text-anchor="start" textLength="102.0" lengthAdjust="spacingAndGlyphs">DIFF:28.82</text>
<text x="377.0" y="1583.1" font-size="21.4" fill="#2a2aa8" text-anchor="start" textLength="100.0" lengthAdjust="spacingAndGlyphs">DEA:35.36</text>
<text x="491.5" y="1583.1" font-size="21.4" fill="#f02cf0" text-anchor="start" textLength="132.5" lengthAdjust="spacingAndGlyphs">MACD:-13.08</text>
<path d="M0 1562H3M0 1571H3M0 1580H3" stroke="#e0443c" stroke-width="1.6"/>
<rect x="2967.3" y="-5" width="128.6" height="29.4" fill="#fff" stroke="#5d6575" stroke-width="1.5"/>
<text x="2978.6" y="20.2" font-size="20.9" fill="#4a5263" text-anchor="start" textLength="83.6" lengthAdjust="spacingAndGlyphs" style="font-family:'Liberation Sans','Noto Sans CJK SC',sans-serif">全部主题</text>
<path d="M3066.2 6.5H3079.8L3073 19.5Z" fill="#3f4757"/>
<rect x="3103.8" y="-0.4" width="22.4" height="23.1" fill="#fff" stroke="#2a78c2" stroke-width="1.7"/>
<rect x="3131.7" y="-0.4" width="22.4" height="23.1" fill="#fff" stroke="#2a78c2" stroke-width="1.7"/>
<rect x="3159.7" y="-0.4" width="22.4" height="23.1" fill="#fff" stroke="#2a78c2" stroke-width="1.7"/>
<rect x="3187.6" y="-0.4" width="22.4" height="23.1" fill="#fff" stroke="#2a78c2" stroke-width="1.7"/>
<path d="M3106.4 11.5H3110.8M3118.8 11.5H3123.2M3113.7 11.5H3116.4" stroke="#2a78c2" stroke-width="2.7"/>
<path d="M3115 3.4V7.3M3115 15.5V19.4" stroke="#2a78c2" stroke-width="2.7"/>
<path d="M3136.5 3.6V19.4M3134.3 18.2H3151.6" stroke="#2a78c2" stroke-width="1.5" fill="none"/>
<path d="M3134.6 6L3136.5 3.2L3138.4 6M3149.3 16.3L3151.9 18.2L3149.3 20.1M3134.6 16.8L3136.5 19.6" stroke="#2a78c2" stroke-width="1.2" fill="none"/>
<path d="M3142 4.9V14.3" stroke="#2a78c2" stroke-width="1.8"/>
<path d="M3143.8 9.5L3148.6 4.9V14.1Z" fill="#2a78c2"/>
<path d="M3164.7 3.6V19.4M3162.2 18.2H3179.7" stroke="#2a78c2" stroke-width="1.5" fill="none"/>
<path d="M3162.8 6L3164.7 3.2L3166.6 6M3177.4 16.3L3180 18.2L3177.4 20.1" stroke="#2a78c2" stroke-width="1.2" fill="none"/>
<path d="M3169.5 4.6L3178 10.3L3169.5 16Z" fill="#2a78c2"/>
<rect x="3191.2" y="4.2" width="4.7" height="14.4" fill="none" stroke="#2a78c2" stroke-width="1.6"/>
<path d="M3194.5 11.65H3202" stroke="#2a78c2" stroke-width="2.4"/>
<path d="M3201.3 7.3L3206.7 11.65L3201.3 16Z" fill="#2a78c2"/>
<text x="3252" y="1853" font-size="40" fill="#b8b8b8" text-anchor="start" textLength="81" lengthAdjust="spacingAndGlyphs" style="font-family:'Liberation Sans','Noto Sans CJK SC',sans-serif">激活</text>
</svg></body></html>
